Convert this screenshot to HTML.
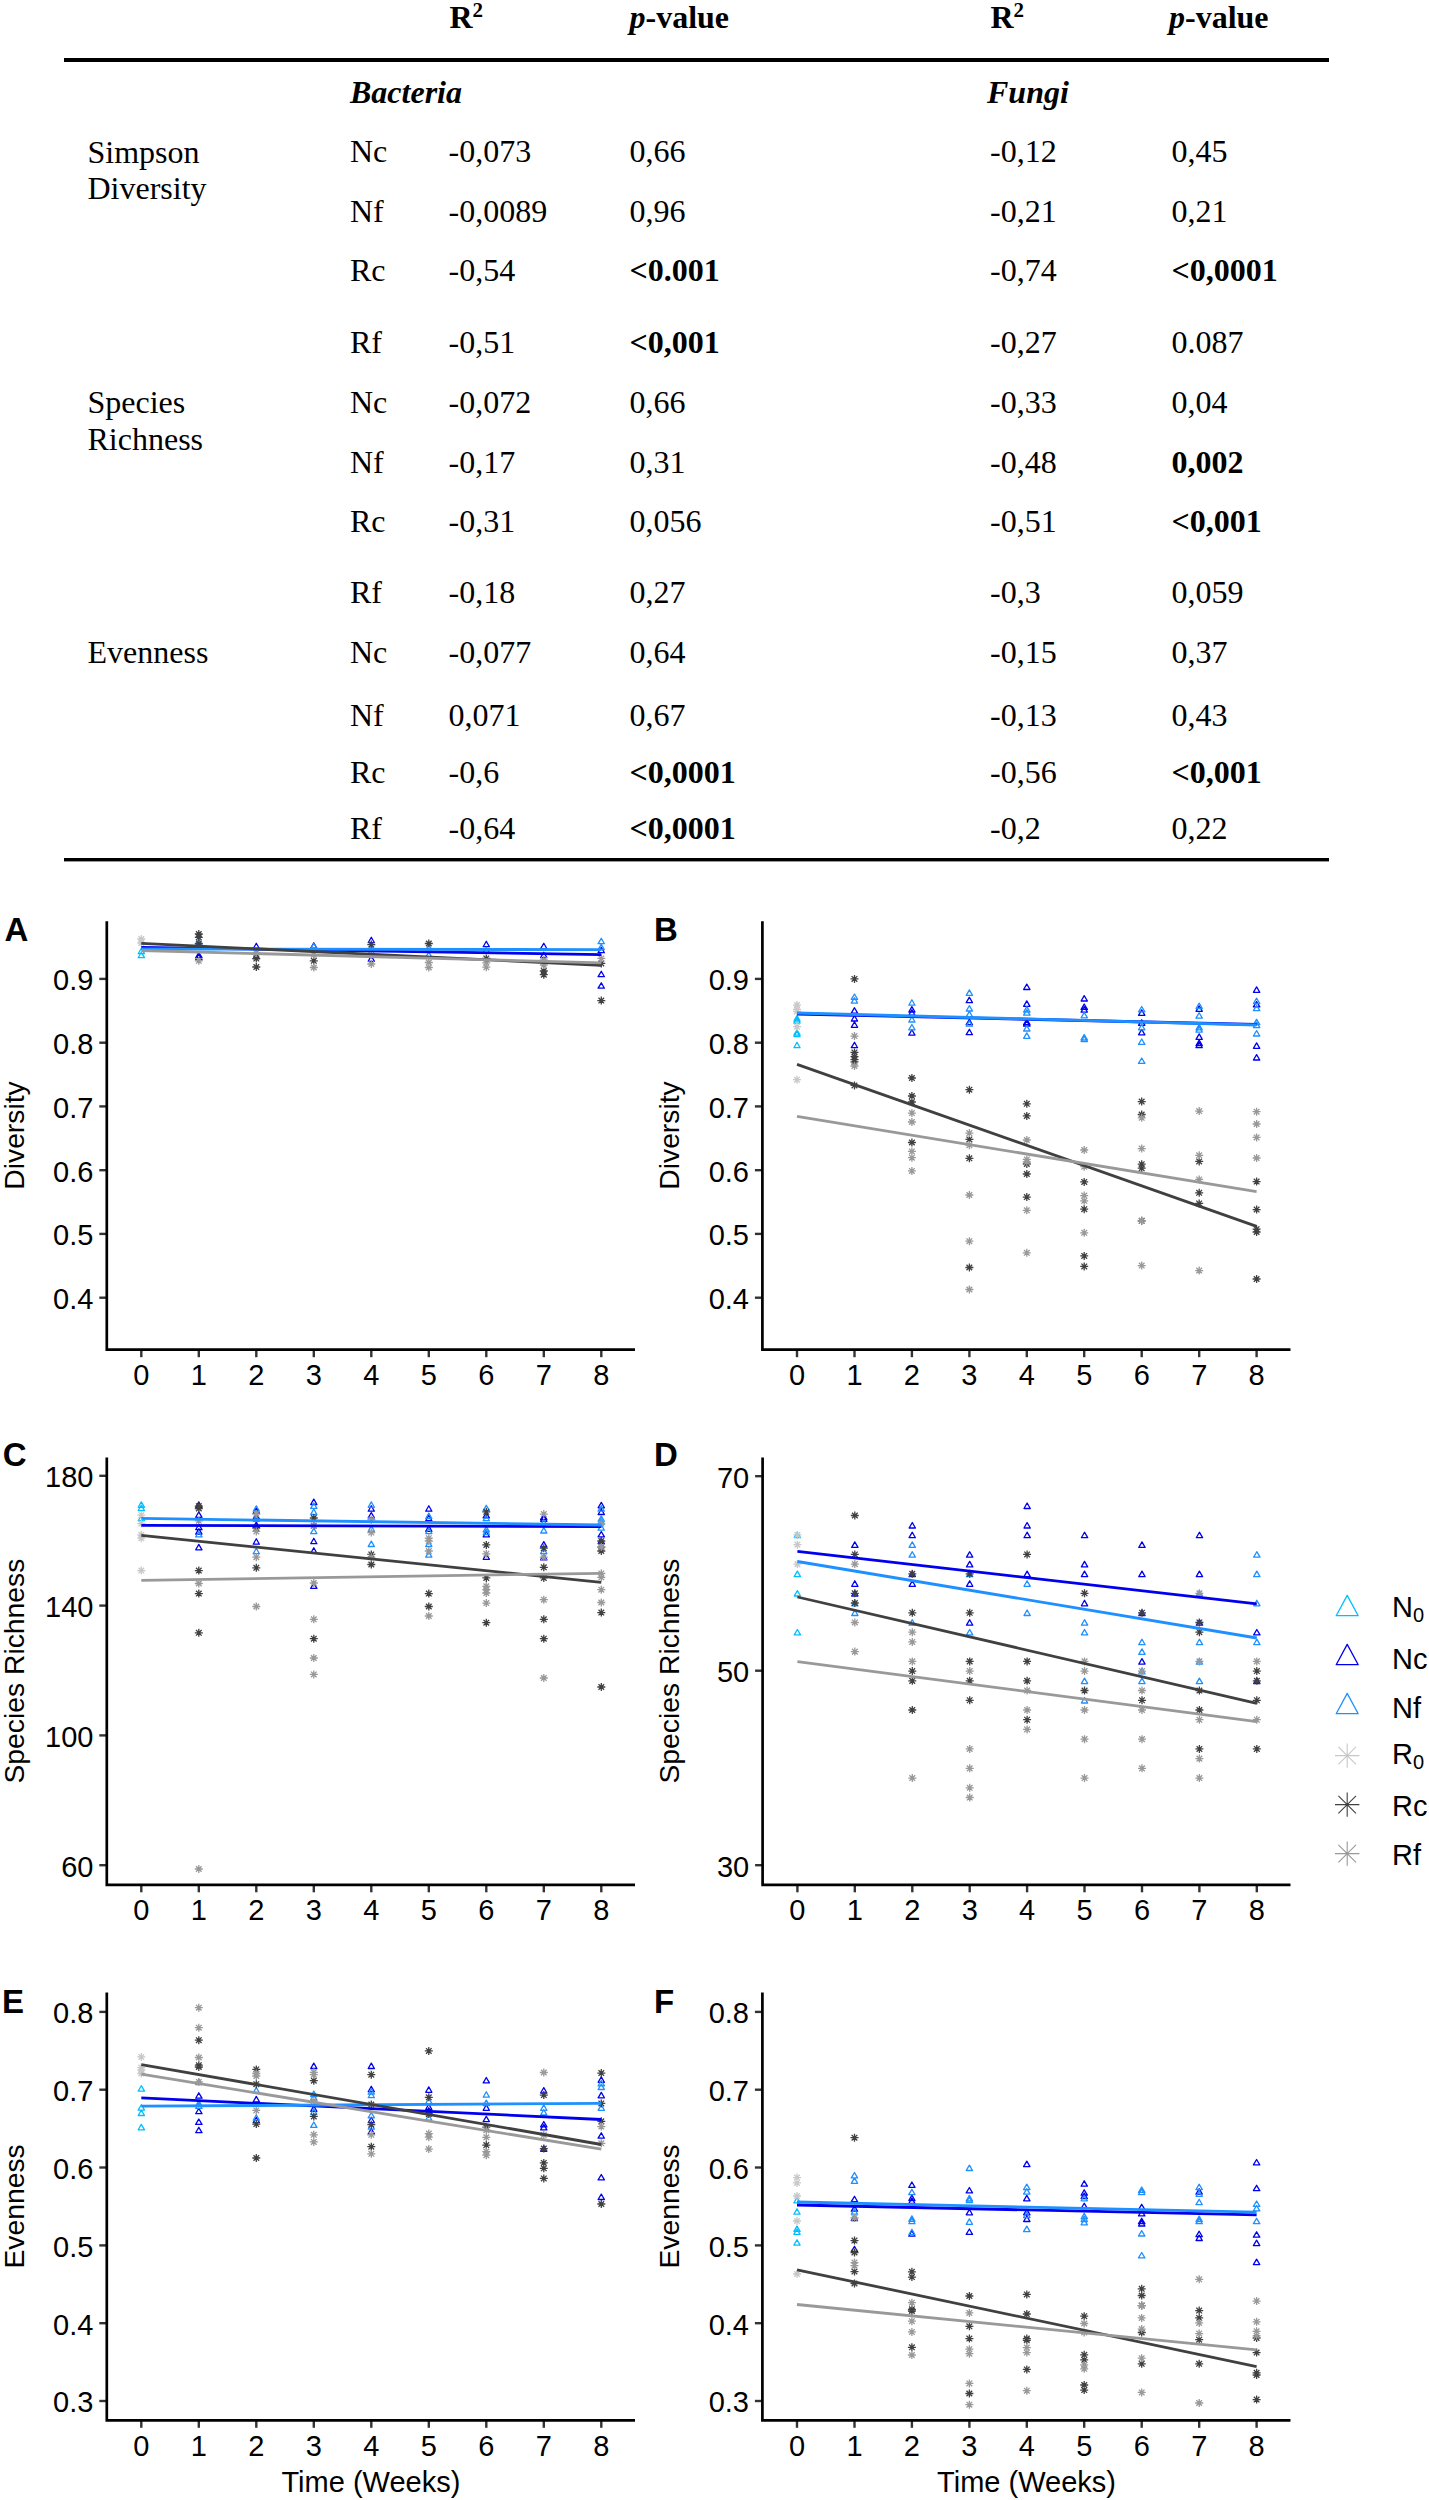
<!DOCTYPE html>
<html><head><meta charset="utf-8"><style>
html,body{margin:0;padding:0;background:#fff;}
body{width:1429px;height:2500px;overflow:hidden;}
svg{display:block;}
</style></head><body>
<svg width="1429" height="2500" viewBox="0 0 1429 2500">
<rect width="1429" height="2500" fill="#fff"/>
<g style="font-family:'Liberation Serif',serif;font-size:32px" fill="#000">
<text x="449.5" y="28" style="font-weight:bold">R<tspan font-size="21" font-weight="bold" dy="-11.2">2</tspan></text>
<text x="629.5" y="28" style="font-weight:bold"><tspan font-style="italic">p</tspan>-value</text>
<text x="990.5" y="28" style="font-weight:bold">R<tspan font-size="21" font-weight="bold" dy="-11.2">2</tspan></text>
<text x="1169" y="28" style="font-weight:bold"><tspan font-style="italic">p</tspan>-value</text>
</g>
<rect x="64" y="58" width="1265" height="4" fill="#000"/>
<rect x="64" y="858" width="1265" height="3.4" fill="#000"/>
<g style="font-family:'Liberation Serif',serif;font-size:32px" fill="#000">
<text x="350" y="103" style="font-weight:bold;font-style:italic">Bacteria</text>
<text x="987" y="103" style="font-weight:bold;font-style:italic">Fungi</text>
<text x="87.5" y="162.5" style="">Simpson</text>
<text x="87.5" y="199" style="">Diversity</text>
<text x="87.5" y="413" style="">Species</text>
<text x="87.5" y="449.6" style="">Richness</text>
<text x="87.5" y="662.7" style="">Evenness</text>
<text x="350" y="161.6" style="">Nc</text>
<text x="448.5" y="161.6" style="">-0,073</text>
<text x="629.5" y="161.6" style="">0,66</text>
<text x="990" y="161.6" style="">-0,12</text>
<text x="1171.5" y="161.6" style="">0,45</text>
<text x="350" y="221.6" style="">Nf</text>
<text x="448.5" y="221.6" style="">-0,0089</text>
<text x="629.5" y="221.6" style="">0,96</text>
<text x="990" y="221.6" style="">-0,21</text>
<text x="1171.5" y="221.6" style="">0,21</text>
<text x="350" y="281.4" style="">Rc</text>
<text x="448.5" y="281.4" style="">-0,54</text>
<text x="629.5" y="281.4" style="font-weight:bold">&lt;0.001</text>
<text x="990" y="281.4" style="">-0,74</text>
<text x="1171.5" y="281.4" style="font-weight:bold">&lt;0,0001</text>
<text x="350" y="353.3" style="">Rf</text>
<text x="448.5" y="353.3" style="">-0,51</text>
<text x="629.5" y="353.3" style="font-weight:bold">&lt;0,001</text>
<text x="990" y="353.3" style="">-0,27</text>
<text x="1171.5" y="353.3" style="">0.087</text>
<text x="350" y="412.5" style="">Nc</text>
<text x="448.5" y="412.5" style="">-0,072</text>
<text x="629.5" y="412.5" style="">0,66</text>
<text x="990" y="412.5" style="">-0,33</text>
<text x="1171.5" y="412.5" style="">0,04</text>
<text x="350" y="472.6" style="">Nf</text>
<text x="448.5" y="472.6" style="">-0,17</text>
<text x="629.5" y="472.6" style="">0,31</text>
<text x="990" y="472.6" style="">-0,48</text>
<text x="1171.5" y="472.6" style="font-weight:bold">0,002</text>
<text x="350" y="532.3" style="">Rc</text>
<text x="448.5" y="532.3" style="">-0,31</text>
<text x="629.5" y="532.3" style="">0,056</text>
<text x="990" y="532.3" style="">-0,51</text>
<text x="1171.5" y="532.3" style="font-weight:bold">&lt;0,001</text>
<text x="350" y="603.2" style="">Rf</text>
<text x="448.5" y="603.2" style="">-0,18</text>
<text x="629.5" y="603.2" style="">0,27</text>
<text x="990" y="603.2" style="">-0,3</text>
<text x="1171.5" y="603.2" style="">0,059</text>
<text x="350" y="662.9" style="">Nc</text>
<text x="448.5" y="662.9" style="">-0,077</text>
<text x="629.5" y="662.9" style="">0,64</text>
<text x="990" y="662.9" style="">-0,15</text>
<text x="1171.5" y="662.9" style="">0,37</text>
<text x="350" y="726.0" style="">Nf</text>
<text x="448.5" y="726.0" style="">0,071</text>
<text x="629.5" y="726.0" style="">0,67</text>
<text x="990" y="726.0" style="">-0,13</text>
<text x="1171.5" y="726.0" style="">0,43</text>
<text x="350" y="782.5" style="">Rc</text>
<text x="448.5" y="782.5" style="">-0,6</text>
<text x="629.5" y="782.5" style="font-weight:bold">&lt;0,0001</text>
<text x="990" y="782.5" style="">-0,56</text>
<text x="1171.5" y="782.5" style="font-weight:bold">&lt;0,001</text>
<text x="350" y="838.7" style="">Rf</text>
<text x="448.5" y="838.7" style="">-0,64</text>
<text x="629.5" y="838.7" style="font-weight:bold">&lt;0,0001</text>
<text x="990" y="838.7" style="">-0,2</text>
<text x="1171.5" y="838.7" style="">0,22</text>
</g>
<text x="4.5" y="941.4" style="font-family:'Liberation Sans',sans-serif;font-size:33px;font-weight:bold">A</text>
<text x="93.4" y="990.2" text-anchor="end" style="font-family:'Liberation Sans',sans-serif;font-size:29px" fill="#000">0.9</text>
<text x="93.4" y="1054.0" text-anchor="end" style="font-family:'Liberation Sans',sans-serif;font-size:29px" fill="#000">0.8</text>
<text x="93.4" y="1117.7" text-anchor="end" style="font-family:'Liberation Sans',sans-serif;font-size:29px" fill="#000">0.7</text>
<text x="93.4" y="1181.5" text-anchor="end" style="font-family:'Liberation Sans',sans-serif;font-size:29px" fill="#000">0.6</text>
<text x="93.4" y="1245.2" text-anchor="end" style="font-family:'Liberation Sans',sans-serif;font-size:29px" fill="#000">0.5</text>
<text x="93.4" y="1309.0" text-anchor="end" style="font-family:'Liberation Sans',sans-serif;font-size:29px" fill="#000">0.4</text>
<text x="141.3" y="1384.5" text-anchor="middle" style="font-family:'Liberation Sans',sans-serif;font-size:29px" fill="#000">0</text>
<text x="198.8" y="1384.5" text-anchor="middle" style="font-family:'Liberation Sans',sans-serif;font-size:29px" fill="#000">1</text>
<text x="256.3" y="1384.5" text-anchor="middle" style="font-family:'Liberation Sans',sans-serif;font-size:29px" fill="#000">2</text>
<text x="313.8" y="1384.5" text-anchor="middle" style="font-family:'Liberation Sans',sans-serif;font-size:29px" fill="#000">3</text>
<text x="371.3" y="1384.5" text-anchor="middle" style="font-family:'Liberation Sans',sans-serif;font-size:29px" fill="#000">4</text>
<text x="428.8" y="1384.5" text-anchor="middle" style="font-family:'Liberation Sans',sans-serif;font-size:29px" fill="#000">5</text>
<text x="486.3" y="1384.5" text-anchor="middle" style="font-family:'Liberation Sans',sans-serif;font-size:29px" fill="#000">6</text>
<text x="543.8" y="1384.5" text-anchor="middle" style="font-family:'Liberation Sans',sans-serif;font-size:29px" fill="#000">7</text>
<text x="601.3" y="1384.5" text-anchor="middle" style="font-family:'Liberation Sans',sans-serif;font-size:29px" fill="#000">8</text>
<path d="M99.3 978.9H106.8" stroke="#333" stroke-width="2.4"/><path d="M99.3 1042.7H106.8" stroke="#333" stroke-width="2.4"/><path d="M99.3 1106.4H106.8" stroke="#333" stroke-width="2.4"/><path d="M99.3 1170.2H106.8" stroke="#333" stroke-width="2.4"/><path d="M99.3 1233.9H106.8" stroke="#333" stroke-width="2.4"/><path d="M99.3 1297.7H106.8" stroke="#333" stroke-width="2.4"/><path d="M141.3 1349.7V1357.2" stroke="#333" stroke-width="2.4"/><path d="M198.8 1349.7V1357.2" stroke="#333" stroke-width="2.4"/><path d="M256.3 1349.7V1357.2" stroke="#333" stroke-width="2.4"/><path d="M313.8 1349.7V1357.2" stroke="#333" stroke-width="2.4"/><path d="M371.3 1349.7V1357.2" stroke="#333" stroke-width="2.4"/><path d="M428.8 1349.7V1357.2" stroke="#333" stroke-width="2.4"/><path d="M486.3 1349.7V1357.2" stroke="#333" stroke-width="2.4"/><path d="M543.8 1349.7V1357.2" stroke="#333" stroke-width="2.4"/><path d="M601.3 1349.7V1357.2" stroke="#333" stroke-width="2.4"/>
<text transform="translate(23.8,1135.5) rotate(-90)" text-anchor="middle" style="font-family:'Liberation Sans',sans-serif;font-size:28.3px" fill="#000">Diversity</text>
<path d="M141.3 948.3L138.2 953.7L144.5 953.7ZM141.3 952.3L138.2 957.7L144.5 957.7Z" fill="none" stroke="#00BFFF" stroke-width="1.3" stroke-linejoin="round"/>
<path d="M198.8 952.3L195.7 957.7L202.0 957.7ZM198.8 954.3L195.7 959.7L202.0 959.7ZM256.3 943.3L253.2 948.7L259.4 948.7ZM256.3 953.3L253.2 958.7L259.4 958.7ZM313.8 942.8L310.7 948.2L316.9 948.2ZM371.3 937.3L368.2 942.7L374.4 942.7ZM371.3 955.9L368.2 961.3L374.4 961.3ZM486.3 941.3L483.2 946.7L489.4 946.7ZM543.8 943.3L540.6 948.7L546.9 948.7ZM543.8 952.3L540.6 957.7L546.9 957.7ZM601.3 971.3L598.1 976.7L604.4 976.7ZM601.3 982.8L598.1 988.2L604.4 988.2ZM601.3 947.3L598.1 952.7L604.4 952.7Z" fill="none" stroke="#0000EE" stroke-width="1.3" stroke-linejoin="round"/>
<path d="M198.8 939.1L195.7 944.5L202.0 944.5ZM313.8 943.3L310.7 948.7L316.9 948.7ZM371.3 944.7L368.2 950.1L374.4 950.1ZM428.8 944.7L425.7 950.1L431.9 950.1ZM428.8 952.0L425.7 957.4L431.9 957.4ZM486.3 947.3L483.2 952.7L489.4 952.7ZM601.3 938.3L598.1 943.7L604.4 943.7ZM601.3 944.3L598.1 949.7L604.4 949.7Z" fill="none" stroke="#1E90FF" stroke-width="1.3" stroke-linejoin="round"/>
<path d="M137.3 939.0H145.3M141.3 935.0V943.0M138.5 936.2L144.1 941.8M138.5 941.8L144.1 936.2M137.3 943.0H145.3M141.3 939.0V947.0M138.5 940.2L144.1 945.8M138.5 945.8L144.1 940.2" fill="none" stroke="#C8C8C8" stroke-width="1.3"/>
<path d="M194.8 934.0H202.8M198.8 930.0V938.0M196.0 931.2L201.6 936.8M196.0 936.8L201.6 931.2M194.8 937.3H202.8M198.8 933.3V941.3M196.0 934.5L201.6 940.1M196.0 940.1L201.6 934.5M194.8 943.5H202.8M198.8 939.5V947.5M196.0 940.7L201.6 946.3M196.0 946.3L201.6 940.7M252.3 958.6H260.3M256.3 954.6V962.6M253.5 955.8L259.1 961.4M253.5 961.4L259.1 955.8M252.3 967.0H260.3M256.3 963.0V971.0M253.5 964.2L259.1 969.8M253.5 969.8L259.1 964.2M309.8 960.8H317.8M313.8 956.8V964.8M311.0 958.0L316.6 963.6M311.0 963.6L316.6 958.0M367.3 944.6H375.3M371.3 940.6V948.6M368.5 941.8L374.1 947.4M368.5 947.4L374.1 941.8M424.8 943.5H432.8M428.8 939.5V947.5M426.0 940.7L431.6 946.3M426.0 946.3L431.6 940.7M482.3 958.4H490.3M486.3 954.4V962.4M483.5 955.6L489.1 961.2M483.5 961.2L489.1 955.6M539.8 971.0H547.8M543.8 967.0V975.0M541.0 968.2L546.6 973.8M541.0 973.8L546.6 968.2M539.8 974.7H547.8M543.8 970.7V978.7M541.0 971.9L546.6 977.5M541.0 977.5L546.6 971.9M597.3 963.4H605.3M601.3 959.4V967.4M598.5 960.6L604.1 966.2M598.5 966.2L604.1 960.6M597.3 1000.6H605.3M601.3 996.6V1004.6M598.5 997.8L604.1 1003.4M598.5 1003.4L604.1 997.8" fill="none" stroke="#404040" stroke-width="1.3"/>
<path d="M194.8 960.8H202.8M198.8 956.8V964.8M196.0 958.0L201.6 963.6M196.0 963.6L201.6 958.0M252.3 953.0H260.3M256.3 949.0V957.0M253.5 950.2L259.1 955.8M253.5 955.8L259.1 950.2M309.8 954.7H317.8M313.8 950.7V958.7M311.0 951.9L316.6 957.5M311.0 957.5L316.6 951.9M309.8 967.5H317.8M313.8 963.5V971.5M311.0 964.7L316.6 970.3M311.0 970.3L316.6 964.7M367.3 955.0H375.3M371.3 951.0V959.0M368.5 952.2L374.1 957.8M368.5 957.8L374.1 952.2M367.3 964.0H375.3M371.3 960.0V968.0M368.5 961.2L374.1 966.8M368.5 966.8L374.1 961.2M424.8 962.5H432.8M428.8 958.5V966.5M426.0 959.7L431.6 965.3M426.0 965.3L431.6 959.7M424.8 967.5H432.8M428.8 963.5V971.5M426.0 964.7L431.6 970.3M426.0 970.3L431.6 964.7M482.3 962.8H490.3M486.3 958.8V966.8M483.5 960.0L489.1 965.6M483.5 965.6L489.1 960.0M482.3 967.2H490.3M486.3 963.2V971.2M483.5 964.4L489.1 970.0M483.5 970.0L489.1 964.4M539.8 960.0H547.8M543.8 956.0V964.0M541.0 957.2L546.6 962.8M541.0 962.8L546.6 957.2M539.8 965.0H547.8M543.8 961.0V969.0M541.0 962.2L546.6 967.8M541.0 967.8L546.6 962.2M597.3 958.4H605.3M601.3 954.4V962.4M598.5 955.6L604.1 961.2M598.5 961.2L604.1 955.6" fill="none" stroke="#999999" stroke-width="1.3"/>
<path d="M141.3 947.4L601.3 954.6" stroke="#0000EE" stroke-width="2.8" fill="none"/>
<path d="M141.3 949.0L601.3 949.6" stroke="#1E90FF" stroke-width="2.8" fill="none"/>
<path d="M141.3 943.4L601.3 965.3" stroke="#404040" stroke-width="2.8" fill="none"/>
<path d="M141.3 950.5L601.3 962.8" stroke="#999999" stroke-width="2.8" fill="none"/>
<path d="M106.8 921.2V1349.7H635" stroke="#000" stroke-width="2.7" fill="none" stroke-linejoin="miter" stroke-linecap="butt"/>
<text x="654" y="941.4" style="font-family:'Liberation Sans',sans-serif;font-size:33px;font-weight:bold">B</text>
<text x="749.0" y="990.2" text-anchor="end" style="font-family:'Liberation Sans',sans-serif;font-size:29px" fill="#000">0.9</text>
<text x="749.0" y="1054.0" text-anchor="end" style="font-family:'Liberation Sans',sans-serif;font-size:29px" fill="#000">0.8</text>
<text x="749.0" y="1117.7" text-anchor="end" style="font-family:'Liberation Sans',sans-serif;font-size:29px" fill="#000">0.7</text>
<text x="749.0" y="1181.5" text-anchor="end" style="font-family:'Liberation Sans',sans-serif;font-size:29px" fill="#000">0.6</text>
<text x="749.0" y="1245.2" text-anchor="end" style="font-family:'Liberation Sans',sans-serif;font-size:29px" fill="#000">0.5</text>
<text x="749.0" y="1309.0" text-anchor="end" style="font-family:'Liberation Sans',sans-serif;font-size:29px" fill="#000">0.4</text>
<text x="797.0" y="1384.5" text-anchor="middle" style="font-family:'Liberation Sans',sans-serif;font-size:29px" fill="#000">0</text>
<text x="854.5" y="1384.5" text-anchor="middle" style="font-family:'Liberation Sans',sans-serif;font-size:29px" fill="#000">1</text>
<text x="911.9" y="1384.5" text-anchor="middle" style="font-family:'Liberation Sans',sans-serif;font-size:29px" fill="#000">2</text>
<text x="969.4" y="1384.5" text-anchor="middle" style="font-family:'Liberation Sans',sans-serif;font-size:29px" fill="#000">3</text>
<text x="1026.8" y="1384.5" text-anchor="middle" style="font-family:'Liberation Sans',sans-serif;font-size:29px" fill="#000">4</text>
<text x="1084.2" y="1384.5" text-anchor="middle" style="font-family:'Liberation Sans',sans-serif;font-size:29px" fill="#000">5</text>
<text x="1141.7" y="1384.5" text-anchor="middle" style="font-family:'Liberation Sans',sans-serif;font-size:29px" fill="#000">6</text>
<text x="1199.2" y="1384.5" text-anchor="middle" style="font-family:'Liberation Sans',sans-serif;font-size:29px" fill="#000">7</text>
<text x="1256.6" y="1384.5" text-anchor="middle" style="font-family:'Liberation Sans',sans-serif;font-size:29px" fill="#000">8</text>
<path d="M754.9 978.9H762.4" stroke="#333" stroke-width="2.4"/><path d="M754.9 1042.7H762.4" stroke="#333" stroke-width="2.4"/><path d="M754.9 1106.4H762.4" stroke="#333" stroke-width="2.4"/><path d="M754.9 1170.2H762.4" stroke="#333" stroke-width="2.4"/><path d="M754.9 1233.9H762.4" stroke="#333" stroke-width="2.4"/><path d="M754.9 1297.7H762.4" stroke="#333" stroke-width="2.4"/><path d="M797.0 1349.7V1357.2" stroke="#333" stroke-width="2.4"/><path d="M854.5 1349.7V1357.2" stroke="#333" stroke-width="2.4"/><path d="M911.9 1349.7V1357.2" stroke="#333" stroke-width="2.4"/><path d="M969.4 1349.7V1357.2" stroke="#333" stroke-width="2.4"/><path d="M1026.8 1349.7V1357.2" stroke="#333" stroke-width="2.4"/><path d="M1084.2 1349.7V1357.2" stroke="#333" stroke-width="2.4"/><path d="M1141.7 1349.7V1357.2" stroke="#333" stroke-width="2.4"/><path d="M1199.2 1349.7V1357.2" stroke="#333" stroke-width="2.4"/><path d="M1256.6 1349.7V1357.2" stroke="#333" stroke-width="2.4"/>
<text transform="translate(678.9,1135.5) rotate(-90)" text-anchor="middle" style="font-family:'Liberation Sans',sans-serif;font-size:28.3px" fill="#000">Diversity</text>
<path d="M797.0 1015.6L793.9 1021.0L800.1 1021.0ZM797.0 1017.7L793.9 1023.1L800.1 1023.1ZM797.0 1029.7L793.9 1035.1L800.1 1035.1ZM797.0 1031.3L793.9 1036.7L800.1 1036.7ZM797.0 1042.3L793.9 1047.7L800.1 1047.7Z" fill="none" stroke="#00BFFF" stroke-width="1.3" stroke-linejoin="round"/>
<path d="M854.5 1007.7L851.3 1013.1L857.6 1013.1ZM854.5 1015.6L851.3 1021.0L857.6 1021.0ZM854.5 1021.9L851.3 1027.3L857.6 1027.3ZM854.5 1042.3L851.3 1047.7L857.6 1047.7ZM911.9 1006.6L908.8 1012.0L915.0 1012.0ZM911.9 1009.8L908.8 1015.2L915.0 1015.2ZM911.9 1029.7L908.8 1035.1L915.0 1035.1ZM969.4 997.2L966.2 1002.6L972.5 1002.6ZM969.4 1019.3L966.2 1024.7L972.5 1024.7ZM969.4 1029.3L966.2 1034.7L972.5 1034.7ZM1026.8 984.1L1023.6 989.5L1030.0 989.5ZM1026.8 1000.9L1023.6 1006.3L1030.0 1006.3ZM1026.8 1019.3L1023.6 1024.7L1030.0 1024.7ZM1026.8 1020.8L1023.6 1026.2L1030.0 1026.2ZM1084.2 995.6L1081.1 1001.0L1087.4 1001.0ZM1084.2 1004.0L1081.1 1009.4L1087.4 1009.4ZM1084.2 1006.7L1081.1 1012.1L1087.4 1012.1ZM1141.7 1009.9L1138.5 1015.3L1144.9 1015.3ZM1141.7 1019.9L1138.5 1025.3L1144.9 1025.3ZM1141.7 1029.4L1138.5 1034.8L1144.9 1034.8ZM1199.2 1005.9L1196.0 1011.3L1202.3 1011.3ZM1199.2 1033.9L1196.0 1039.3L1202.3 1039.3ZM1199.2 1040.1L1196.0 1045.5L1202.3 1045.5ZM1199.2 1042.3L1196.0 1047.7L1202.3 1047.7ZM1256.6 986.9L1253.4 992.3L1259.8 992.3ZM1256.6 1001.5L1253.4 1006.9L1259.8 1006.9ZM1256.6 1042.9L1253.4 1048.3L1259.8 1048.3ZM1256.6 1054.6L1253.4 1060.0L1259.8 1060.0Z" fill="none" stroke="#0000EE" stroke-width="1.3" stroke-linejoin="round"/>
<path d="M854.5 994.0L851.3 999.4L857.6 999.4ZM854.5 997.7L851.3 1003.1L857.6 1003.1ZM911.9 999.8L908.8 1005.2L915.0 1005.2ZM911.9 1016.6L908.8 1022.0L915.0 1022.0ZM911.9 1024.5L908.8 1029.9L915.0 1029.9ZM969.4 989.9L966.2 995.3L972.5 995.3ZM969.4 1005.6L966.2 1011.0L972.5 1011.0ZM969.4 1011.4L966.2 1016.8L972.5 1016.8ZM969.4 1020.8L966.2 1026.2L972.5 1026.2ZM1026.8 1006.7L1023.6 1012.1L1030.0 1012.1ZM1026.8 1009.8L1023.6 1015.2L1030.0 1015.2ZM1026.8 1025.6L1023.6 1031.0L1030.0 1031.0ZM1026.8 1032.9L1023.6 1038.3L1030.0 1038.3ZM1084.2 1012.4L1081.1 1017.8L1087.4 1017.8ZM1084.2 1034.5L1081.1 1039.9L1087.4 1039.9ZM1084.2 1036.1L1081.1 1041.5L1087.4 1041.5ZM1141.7 1006.5L1138.5 1011.9L1144.9 1011.9ZM1141.7 1024.4L1138.5 1029.8L1144.9 1029.8ZM1141.7 1039.0L1138.5 1044.4L1144.9 1044.4ZM1141.7 1058.0L1138.5 1063.4L1144.9 1063.4ZM1199.2 1003.1L1196.0 1008.5L1202.3 1008.5ZM1199.2 1012.7L1196.0 1018.1L1202.3 1018.1ZM1199.2 1024.4L1196.0 1029.8L1202.3 1029.8ZM1199.2 1026.7L1196.0 1032.1L1202.3 1032.1ZM1256.6 998.1L1253.4 1003.5L1259.8 1003.5ZM1256.6 1005.3L1253.4 1010.7L1259.8 1010.7ZM1256.6 1019.3L1253.4 1024.7L1259.8 1024.7ZM1256.6 1022.2L1253.4 1027.6L1259.8 1027.6ZM1256.6 1030.6L1253.4 1036.0L1259.8 1036.0Z" fill="none" stroke="#1E90FF" stroke-width="1.3" stroke-linejoin="round"/>
<path d="M793.0 1005.1H801.0M797.0 1001.1V1009.1M794.2 1002.3L799.8 1007.9M794.2 1007.9L799.8 1002.3M793.0 1009.3H801.0M797.0 1005.3V1013.3M794.2 1006.5L799.8 1012.1M794.2 1012.1L799.8 1006.5M793.0 1011.4H801.0M797.0 1007.4V1015.4M794.2 1008.6L799.8 1014.2M794.2 1014.2L799.8 1008.6M793.0 1026.7H801.0M797.0 1022.7V1030.7M794.2 1023.9L799.8 1029.5M794.2 1029.5L799.8 1023.9M793.0 1079.7H801.0M797.0 1075.7V1083.7M794.2 1076.9L799.8 1082.5M794.2 1082.5L799.8 1076.9" fill="none" stroke="#C8C8C8" stroke-width="1.3"/>
<path d="M850.5 978.9H858.5M854.5 974.9V982.9M851.6 976.1L857.3 981.7M851.6 981.7L857.3 976.1M850.5 1052.4H858.5M854.5 1048.4V1056.4M851.6 1049.6L857.3 1055.2M851.6 1055.2L857.3 1049.6M850.5 1056.6H858.5M854.5 1052.6V1060.6M851.6 1053.8L857.3 1059.4M851.6 1059.4L857.3 1053.8M850.5 1059.7H858.5M854.5 1055.7V1063.7M851.6 1056.9L857.3 1062.5M851.6 1062.5L857.3 1056.9M850.5 1061.8H858.5M854.5 1057.8V1065.8M851.6 1059.0L857.3 1064.6M851.6 1064.6L857.3 1059.0M850.5 1085.4H858.5M854.5 1081.4V1089.4M851.6 1082.6L857.3 1088.2M851.6 1088.2L857.3 1082.6M907.9 1078.0H915.9M911.9 1074.0V1082.0M909.1 1075.2L914.7 1080.8M909.1 1080.8L914.7 1075.2M907.9 1096.0H915.9M911.9 1092.0V1100.0M909.1 1093.2L914.7 1098.8M909.1 1098.8L914.7 1093.2M907.9 1102.0H915.9M911.9 1098.0V1106.0M909.1 1099.2L914.7 1104.8M909.1 1104.8L914.7 1099.2M907.9 1142.5H915.9M911.9 1138.5V1146.5M909.1 1139.7L914.7 1145.3M909.1 1145.3L914.7 1139.7M965.4 1089.7H973.4M969.4 1085.7V1093.7M966.5 1086.9L972.2 1092.5M966.5 1092.5L972.2 1086.9M965.4 1139.4H973.4M969.4 1135.4V1143.4M966.5 1136.6L972.2 1142.2M966.5 1142.2L972.2 1136.6M965.4 1158.3H973.4M969.4 1154.3V1162.3M966.5 1155.5L972.2 1161.1M966.5 1161.1L972.2 1155.5M965.4 1267.5H973.4M969.4 1263.5V1271.5M966.5 1264.7L972.2 1270.3M966.5 1270.3L972.2 1264.7M1022.8 1103.8H1030.8M1026.8 1099.8V1107.8M1024.0 1101.0L1029.6 1106.6M1024.0 1106.6L1029.6 1101.0M1022.8 1115.9H1030.8M1026.8 1111.9V1119.9M1024.0 1113.1L1029.6 1118.7M1024.0 1118.7L1029.6 1113.1M1022.8 1164.0H1030.8M1026.8 1160.0V1168.0M1024.0 1161.2L1029.6 1166.8M1024.0 1166.8L1029.6 1161.2M1022.8 1174.0H1030.8M1026.8 1170.0V1178.0M1024.0 1171.2L1029.6 1176.8M1024.0 1176.8L1029.6 1171.2M1022.8 1197.1H1030.8M1026.8 1193.1V1201.1M1024.0 1194.3L1029.6 1199.9M1024.0 1199.9L1029.6 1194.3M1080.2 1181.9H1088.2M1084.2 1177.9V1185.9M1081.4 1179.1L1087.1 1184.7M1081.4 1184.7L1087.1 1179.1M1080.2 1209.2H1088.2M1084.2 1205.2V1213.2M1081.4 1206.4L1087.1 1212.0M1081.4 1212.0L1087.1 1206.4M1080.2 1255.9H1088.2M1084.2 1251.9V1259.9M1081.4 1253.1L1087.1 1258.7M1081.4 1258.7L1087.1 1253.1M1080.2 1266.4H1088.2M1084.2 1262.4V1270.4M1081.4 1263.6L1087.1 1269.2M1081.4 1269.2L1087.1 1263.6M1137.7 1101.6H1145.7M1141.7 1097.6V1105.6M1138.9 1098.8L1144.5 1104.4M1138.9 1104.4L1144.5 1098.8M1137.7 1114.5H1145.7M1141.7 1110.5V1118.5M1138.9 1111.7L1144.5 1117.3M1138.9 1117.3L1144.5 1111.7M1137.7 1164.2H1145.7M1141.7 1160.2V1168.2M1138.9 1161.4L1144.5 1167.0M1138.9 1167.0L1144.5 1161.4M1137.7 1168.2H1145.7M1141.7 1164.2V1172.2M1138.9 1165.4L1144.5 1171.0M1138.9 1171.0L1144.5 1165.4M1137.7 1220.8H1145.7M1141.7 1216.8V1224.8M1138.9 1218.0L1144.5 1223.6M1138.9 1223.6L1144.5 1218.0M1195.2 1161.4H1203.2M1199.2 1157.4V1165.4M1196.3 1158.6L1202.0 1164.2M1196.3 1164.2L1202.0 1158.6M1195.2 1192.8H1203.2M1199.2 1188.8V1196.8M1196.3 1190.0L1202.0 1195.6M1196.3 1195.6L1202.0 1190.0M1195.2 1203.4H1203.2M1199.2 1199.4V1207.4M1196.3 1200.6L1202.0 1206.2M1196.3 1206.2L1202.0 1200.6M1252.6 1181.6H1260.6M1256.6 1177.6V1185.6M1253.8 1178.8L1259.4 1184.4M1253.8 1184.4L1259.4 1178.8M1252.6 1209.6H1260.6M1256.6 1205.6V1213.6M1253.8 1206.8L1259.4 1212.4M1253.8 1212.4L1259.4 1206.8M1252.6 1229.2H1260.6M1256.6 1225.2V1233.2M1253.8 1226.4L1259.4 1232.0M1253.8 1232.0L1259.4 1226.4M1252.6 1232.0H1260.6M1256.6 1228.0V1236.0M1253.8 1229.2L1259.4 1234.8M1253.8 1234.8L1259.4 1229.2M1252.6 1279.0H1260.6M1256.6 1275.0V1283.0M1253.8 1276.2L1259.4 1281.8M1253.8 1281.8L1259.4 1276.2" fill="none" stroke="#404040" stroke-width="1.3"/>
<path d="M850.5 1036.1H858.5M854.5 1032.1V1040.1M851.6 1033.3L857.3 1038.9M851.6 1038.9L857.3 1033.3M850.5 1066.0H858.5M854.5 1062.0V1070.0M851.6 1063.2L857.3 1068.8M851.6 1068.8L857.3 1063.2M907.9 1113.1H915.9M911.9 1109.1V1117.1M909.1 1110.3L914.7 1115.9M909.1 1115.9L914.7 1110.3M907.9 1122.0H915.9M911.9 1118.0V1126.0M909.1 1119.2L914.7 1124.8M909.1 1124.8L914.7 1119.2M907.9 1151.4H915.9M911.9 1147.4V1155.4M909.1 1148.6L914.7 1154.2M909.1 1154.2L914.7 1148.6M907.9 1157.7H915.9M911.9 1153.7V1161.7M909.1 1154.9L914.7 1160.5M909.1 1160.5L914.7 1154.9M907.9 1170.9H915.9M911.9 1166.9V1174.9M909.1 1168.1L914.7 1173.7M909.1 1173.7L914.7 1168.1M965.4 1133.1H973.4M969.4 1129.1V1137.1M966.5 1130.3L972.2 1135.9M966.5 1135.9L972.2 1130.3M965.4 1145.2H973.4M969.4 1141.2V1149.2M966.5 1142.4L972.2 1148.0M966.5 1148.0L972.2 1142.4M965.4 1195.0H973.4M969.4 1191.0V1199.0M966.5 1192.2L972.2 1197.8M966.5 1197.8L972.2 1192.2M965.4 1241.2H973.4M969.4 1237.2V1245.2M966.5 1238.4L972.2 1244.0M966.5 1244.0L972.2 1238.4M965.4 1289.5H973.4M969.4 1285.5V1293.5M966.5 1286.7L972.2 1292.3M966.5 1292.3L972.2 1286.7M1022.8 1140.0H1030.8M1026.8 1136.0V1144.0M1024.0 1137.2L1029.6 1142.8M1024.0 1142.8L1029.6 1137.2M1022.8 1159.4H1030.8M1026.8 1155.4V1163.4M1024.0 1156.6L1029.6 1162.2M1024.0 1162.2L1029.6 1156.6M1022.8 1162.0H1030.8M1026.8 1158.0V1166.0M1024.0 1159.2L1029.6 1164.8M1024.0 1164.8L1029.6 1159.2M1022.8 1210.3H1030.8M1026.8 1206.3V1214.3M1024.0 1207.5L1029.6 1213.1M1024.0 1213.1L1029.6 1207.5M1022.8 1252.8H1030.8M1026.8 1248.8V1256.8M1024.0 1250.0L1029.6 1255.6M1024.0 1255.6L1029.6 1250.0M1080.2 1150.0H1088.2M1084.2 1146.0V1154.0M1081.4 1147.2L1087.1 1152.8M1081.4 1152.8L1087.1 1147.2M1080.2 1166.7H1088.2M1084.2 1162.7V1170.7M1081.4 1163.9L1087.1 1169.5M1081.4 1169.5L1087.1 1163.9M1080.2 1195.6H1088.2M1084.2 1191.6V1199.6M1081.4 1192.8L1087.1 1198.4M1081.4 1198.4L1087.1 1192.8M1080.2 1200.8H1088.2M1084.2 1196.8V1204.8M1081.4 1198.0L1087.1 1203.6M1081.4 1203.6L1087.1 1198.0M1080.2 1232.8H1088.2M1084.2 1228.8V1236.8M1081.4 1230.0L1087.1 1235.6M1081.4 1235.6L1087.1 1230.0M1137.7 1117.8H1145.7M1141.7 1113.8V1121.8M1138.9 1115.0L1144.5 1120.6M1138.9 1120.6L1144.5 1115.0M1137.7 1148.6H1145.7M1141.7 1144.6V1152.6M1138.9 1145.8L1144.5 1151.4M1138.9 1151.4L1144.5 1145.8M1137.7 1220.8H1145.7M1141.7 1216.8V1224.8M1138.9 1218.0L1144.5 1223.6M1138.9 1223.6L1144.5 1218.0M1137.7 1265.6H1145.7M1141.7 1261.6V1269.6M1138.9 1262.8L1144.5 1268.4M1138.9 1268.4L1144.5 1262.8M1195.2 1111.1H1203.2M1199.2 1107.1V1115.1M1196.3 1108.3L1202.0 1113.9M1196.3 1113.9L1202.0 1108.3M1195.2 1155.3H1203.2M1199.2 1151.3V1159.3M1196.3 1152.5L1202.0 1158.1M1196.3 1158.1L1202.0 1152.5M1195.2 1179.4H1203.2M1199.2 1175.4V1183.4M1196.3 1176.6L1202.0 1182.2M1196.3 1182.2L1202.0 1176.6M1195.2 1270.6H1203.2M1199.2 1266.6V1274.6M1196.3 1267.8L1202.0 1273.4M1196.3 1273.4L1202.0 1267.8M1252.6 1111.7H1260.6M1256.6 1107.7V1115.7M1253.8 1108.9L1259.4 1114.5M1253.8 1114.5L1259.4 1108.9M1252.6 1124.0H1260.6M1256.6 1120.0V1128.0M1253.8 1121.2L1259.4 1126.8M1253.8 1126.8L1259.4 1121.2M1252.6 1137.4H1260.6M1256.6 1133.4V1141.4M1253.8 1134.6L1259.4 1140.2M1253.8 1140.2L1259.4 1134.6M1252.6 1158.0H1260.6M1256.6 1154.0V1162.0M1253.8 1155.2L1259.4 1160.8M1253.8 1160.8L1259.4 1155.2" fill="none" stroke="#999999" stroke-width="1.3"/>
<path d="M797.0 1014.0L1256.6 1024.5" stroke="#0000EE" stroke-width="2.8" fill="none"/>
<path d="M797.0 1013.0L1256.6 1025.0" stroke="#1E90FF" stroke-width="2.8" fill="none"/>
<path d="M797.0 1064.4L1256.6 1226.4" stroke="#404040" stroke-width="2.8" fill="none"/>
<path d="M797.0 1116.3L1256.6 1191.7" stroke="#999999" stroke-width="2.8" fill="none"/>
<path d="M762.4 921.2V1349.7H1290.5" stroke="#000" stroke-width="2.7" fill="none" stroke-linejoin="miter" stroke-linecap="butt"/>
<text x="2.8" y="1466" style="font-family:'Liberation Sans',sans-serif;font-size:33px;font-weight:bold">C</text>
<text x="93.4" y="1487.1" text-anchor="end" style="font-family:'Liberation Sans',sans-serif;font-size:29px" fill="#000">180</text>
<text x="93.4" y="1616.9" text-anchor="end" style="font-family:'Liberation Sans',sans-serif;font-size:29px" fill="#000">140</text>
<text x="93.4" y="1746.7" text-anchor="end" style="font-family:'Liberation Sans',sans-serif;font-size:29px" fill="#000">100</text>
<text x="93.4" y="1876.5" text-anchor="end" style="font-family:'Liberation Sans',sans-serif;font-size:29px" fill="#000">60</text>
<text x="141.3" y="1920.2" text-anchor="middle" style="font-family:'Liberation Sans',sans-serif;font-size:29px" fill="#000">0</text>
<text x="198.8" y="1920.2" text-anchor="middle" style="font-family:'Liberation Sans',sans-serif;font-size:29px" fill="#000">1</text>
<text x="256.3" y="1920.2" text-anchor="middle" style="font-family:'Liberation Sans',sans-serif;font-size:29px" fill="#000">2</text>
<text x="313.8" y="1920.2" text-anchor="middle" style="font-family:'Liberation Sans',sans-serif;font-size:29px" fill="#000">3</text>
<text x="371.3" y="1920.2" text-anchor="middle" style="font-family:'Liberation Sans',sans-serif;font-size:29px" fill="#000">4</text>
<text x="428.8" y="1920.2" text-anchor="middle" style="font-family:'Liberation Sans',sans-serif;font-size:29px" fill="#000">5</text>
<text x="486.3" y="1920.2" text-anchor="middle" style="font-family:'Liberation Sans',sans-serif;font-size:29px" fill="#000">6</text>
<text x="543.8" y="1920.2" text-anchor="middle" style="font-family:'Liberation Sans',sans-serif;font-size:29px" fill="#000">7</text>
<text x="601.3" y="1920.2" text-anchor="middle" style="font-family:'Liberation Sans',sans-serif;font-size:29px" fill="#000">8</text>
<path d="M99.3 1475.8H106.8" stroke="#333" stroke-width="2.4"/><path d="M99.3 1605.6H106.8" stroke="#333" stroke-width="2.4"/><path d="M99.3 1735.4H106.8" stroke="#333" stroke-width="2.4"/><path d="M99.3 1865.2H106.8" stroke="#333" stroke-width="2.4"/><path d="M141.3 1884.8V1892.3" stroke="#333" stroke-width="2.4"/><path d="M198.8 1884.8V1892.3" stroke="#333" stroke-width="2.4"/><path d="M256.3 1884.8V1892.3" stroke="#333" stroke-width="2.4"/><path d="M313.8 1884.8V1892.3" stroke="#333" stroke-width="2.4"/><path d="M371.3 1884.8V1892.3" stroke="#333" stroke-width="2.4"/><path d="M428.8 1884.8V1892.3" stroke="#333" stroke-width="2.4"/><path d="M486.3 1884.8V1892.3" stroke="#333" stroke-width="2.4"/><path d="M543.8 1884.8V1892.3" stroke="#333" stroke-width="2.4"/><path d="M601.3 1884.8V1892.3" stroke="#333" stroke-width="2.4"/>
<text transform="translate(23.8,1671.1) rotate(-90)" text-anchor="middle" style="font-family:'Liberation Sans',sans-serif;font-size:28.3px" fill="#000">Species Richness</text>
<path d="M141.3 1501.9L138.2 1507.3L144.5 1507.3ZM141.3 1505.2L138.2 1510.6L144.5 1510.6ZM141.3 1515.3L138.2 1520.7L144.5 1520.7Z" fill="none" stroke="#00BFFF" stroke-width="1.3" stroke-linejoin="round"/>
<path d="M198.8 1501.9L195.7 1507.3L202.0 1507.3ZM198.8 1511.9L195.7 1517.3L202.0 1517.3ZM198.8 1524.3L195.7 1529.7L202.0 1529.7ZM198.8 1528.7L195.7 1534.1L202.0 1534.1ZM198.8 1544.4L195.7 1549.8L202.0 1549.8ZM256.3 1508.0L253.2 1513.4L259.4 1513.4ZM256.3 1513.6L253.2 1519.0L259.4 1519.0ZM256.3 1522.0L253.2 1527.4L259.4 1527.4ZM256.3 1538.8L253.2 1544.2L259.4 1544.2ZM313.8 1499.1L310.7 1504.5L316.9 1504.5ZM313.8 1538.3L310.7 1543.7L316.9 1543.7ZM313.8 1547.8L310.7 1553.2L316.9 1553.2ZM313.8 1583.0L310.7 1588.4L316.9 1588.4ZM371.3 1505.8L368.2 1511.2L374.4 1511.2ZM371.3 1512.5L368.2 1517.9L374.4 1517.9ZM428.8 1505.8L425.7 1511.2L431.9 1511.2ZM428.8 1515.3L425.7 1520.7L431.9 1520.7ZM428.8 1525.9L425.7 1531.3L431.9 1531.3ZM486.3 1512.5L483.2 1517.9L489.4 1517.9ZM486.3 1531.5L483.2 1536.9L489.4 1536.9ZM486.3 1553.9L483.2 1559.3L489.4 1559.3ZM543.8 1514.2L540.6 1519.6L546.9 1519.6ZM543.8 1515.9L540.6 1521.3L546.9 1521.3ZM543.8 1541.6L540.6 1547.0L546.9 1547.0ZM543.8 1554.5L540.6 1559.9L546.9 1559.9ZM601.3 1502.4L598.1 1507.8L604.4 1507.8ZM601.3 1509.1L598.1 1514.5L604.4 1514.5ZM601.3 1531.5L598.1 1536.9L604.4 1536.9ZM601.3 1538.3L598.1 1543.7L604.4 1543.7Z" fill="none" stroke="#0000EE" stroke-width="1.3" stroke-linejoin="round"/>
<path d="M198.8 1531.5L195.7 1536.9L202.0 1536.9ZM256.3 1505.8L253.2 1511.2L259.4 1511.2ZM256.3 1515.9L253.2 1521.3L259.4 1521.3ZM256.3 1548.3L253.2 1553.7L259.4 1553.7ZM313.8 1503.0L310.7 1508.4L316.9 1508.4ZM313.8 1509.1L310.7 1514.5L316.9 1514.5ZM313.8 1528.2L310.7 1533.6L316.9 1533.6ZM371.3 1501.9L368.2 1507.3L374.4 1507.3ZM371.3 1525.9L368.2 1531.3L374.4 1531.3ZM371.3 1541.1L368.2 1546.5L374.4 1546.5ZM428.8 1513.1L425.7 1518.5L431.9 1518.5ZM428.8 1528.2L425.7 1533.6L431.9 1533.6ZM428.8 1541.1L425.7 1546.5L431.9 1546.5ZM428.8 1551.7L425.7 1557.1L431.9 1557.1ZM486.3 1505.2L483.2 1510.6L489.4 1510.6ZM486.3 1515.3L483.2 1520.7L489.4 1520.7ZM486.3 1526.5L483.2 1531.9L489.4 1531.9ZM486.3 1529.3L483.2 1534.7L489.4 1534.7ZM543.8 1519.8L540.6 1525.2L546.9 1525.2ZM543.8 1527.6L540.6 1533.0L546.9 1533.0ZM543.8 1548.3L540.6 1553.7L546.9 1553.7ZM601.3 1505.8L598.1 1511.2L604.4 1511.2ZM601.3 1515.9L598.1 1521.3L604.4 1521.3ZM601.3 1518.7L598.1 1524.1L604.4 1524.1ZM601.3 1524.8L598.1 1530.2L604.4 1530.2Z" fill="none" stroke="#1E90FF" stroke-width="1.3" stroke-linejoin="round"/>
<path d="M137.3 1515.2H145.3M141.3 1511.2V1519.2M138.5 1512.4L144.1 1518.0M138.5 1518.0L144.1 1512.4M137.3 1523.6H145.3M141.3 1519.6V1527.6M138.5 1520.8L144.1 1526.4M138.5 1526.4L144.1 1520.8M137.3 1534.8H145.3M141.3 1530.8V1538.8M138.5 1532.0L144.1 1537.6M138.5 1537.6L144.1 1532.0M137.3 1538.2H145.3M141.3 1534.2V1542.2M138.5 1535.4L144.1 1541.0M138.5 1541.0L144.1 1535.4M137.3 1570.6H145.3M141.3 1566.6V1574.6M138.5 1567.8L144.1 1573.4M138.5 1573.4L144.1 1567.8" fill="none" stroke="#C8C8C8" stroke-width="1.3"/>
<path d="M194.8 1506.2H202.8M198.8 1502.2V1510.2M196.0 1503.4L201.6 1509.0M196.0 1509.0L201.6 1503.4M194.8 1508.5H202.8M198.8 1504.5V1512.5M196.0 1505.7L201.6 1511.3M196.0 1511.3L201.6 1505.7M194.8 1570.6H202.8M198.8 1566.6V1574.6M196.0 1567.8L201.6 1573.4M196.0 1573.4L201.6 1567.8M194.8 1593.6H202.8M198.8 1589.6V1597.6M196.0 1590.8L201.6 1596.4M196.0 1596.4L201.6 1590.8M194.8 1632.8H202.8M198.8 1628.8V1636.8M196.0 1630.0L201.6 1635.6M196.0 1635.6L201.6 1630.0M252.3 1528.1H260.3M256.3 1524.1V1532.1M253.5 1525.3L259.1 1530.9M253.5 1530.9L259.1 1525.3M252.3 1567.8H260.3M256.3 1563.8V1571.8M253.5 1565.0L259.1 1570.6M253.5 1570.6L259.1 1565.0M309.8 1518.0H317.8M313.8 1514.0V1522.0M311.0 1515.2L316.6 1520.8M311.0 1520.8L316.6 1515.2M309.8 1525.8H317.8M313.8 1521.8V1529.8M311.0 1523.0L316.6 1528.6M311.0 1528.6L316.6 1523.0M309.8 1638.7H317.8M313.8 1634.7V1642.7M311.0 1635.9L316.6 1641.5M311.0 1641.5L316.6 1635.9M367.3 1554.4H375.3M371.3 1550.4V1558.4M368.5 1551.6L374.1 1557.2M368.5 1557.2L374.1 1551.6M367.3 1564.5H375.3M371.3 1560.5V1568.5M368.5 1561.7L374.1 1567.3M368.5 1567.3L374.1 1561.7M424.8 1593.6H432.8M428.8 1589.6V1597.6M426.0 1590.8L431.6 1596.4M426.0 1596.4L431.6 1590.8M424.8 1606.5H432.8M428.8 1602.5V1610.5M426.0 1603.7L431.6 1609.3M426.0 1609.3L431.6 1603.7M482.3 1511.8H490.3M486.3 1507.8V1515.8M483.5 1509.0L489.1 1514.6M483.5 1514.6L489.1 1509.0M482.3 1544.9H490.3M486.3 1540.9V1548.9M483.5 1542.1L489.1 1547.7M483.5 1547.7L489.1 1542.1M482.3 1577.9H490.3M486.3 1573.9V1581.9M483.5 1575.1L489.1 1580.7M483.5 1580.7L489.1 1575.1M482.3 1622.7H490.3M486.3 1618.7V1626.7M483.5 1619.9L489.1 1625.5M483.5 1625.5L489.1 1619.9M539.8 1548.2H547.8M543.8 1544.2V1552.2M541.0 1545.4L546.6 1551.0M541.0 1551.0L546.6 1545.4M539.8 1567.3H547.8M543.8 1563.3V1571.3M541.0 1564.5L546.6 1570.1M541.0 1570.1L546.6 1564.5M539.8 1577.9H547.8M543.8 1573.9V1581.9M541.0 1575.1L546.6 1580.7M541.0 1580.7L546.6 1575.1M539.8 1619.3H547.8M543.8 1615.3V1623.3M541.0 1616.5L546.6 1622.1M541.0 1622.1L546.6 1616.5M539.8 1638.7H547.8M543.8 1634.7V1642.7M541.0 1635.9L546.6 1641.5M541.0 1641.5L546.6 1635.9M597.3 1541.0H605.3M601.3 1537.0V1545.0M598.5 1538.2L604.1 1543.8M598.5 1543.8L604.1 1538.2M597.3 1547.1H605.3M601.3 1543.1V1551.1M598.5 1544.3L604.1 1549.9M598.5 1549.9L604.1 1544.3M597.3 1551.0H605.3M601.3 1547.0V1555.0M598.5 1548.2L604.1 1553.8M598.5 1553.8L604.1 1548.2M597.3 1612.6H605.3M601.3 1608.6V1616.6M598.5 1609.8L604.1 1615.4M598.5 1615.4L604.1 1609.8M597.3 1687.0H605.3M601.3 1683.0V1691.0M598.5 1684.2L604.1 1689.8M598.5 1689.8L604.1 1684.2" fill="none" stroke="#404040" stroke-width="1.3"/>
<path d="M194.8 1520.8H202.8M198.8 1516.8V1524.8M196.0 1518.0L201.6 1523.6M196.0 1523.6L201.6 1518.0M194.8 1583.5H202.8M198.8 1579.5V1587.5M196.0 1580.7L201.6 1586.3M196.0 1586.3L201.6 1580.7M194.8 1869.0H202.8M198.8 1865.0V1873.0M196.0 1866.2L201.6 1871.8M196.0 1871.8L201.6 1866.2M252.3 1514.0H260.3M256.3 1510.0V1518.0M253.5 1511.2L259.1 1516.8M253.5 1516.8L259.1 1511.2M252.3 1531.4H260.3M256.3 1527.4V1535.4M253.5 1528.6L259.1 1534.2M253.5 1534.2L259.1 1528.6M252.3 1557.2H260.3M256.3 1553.2V1561.2M253.5 1554.4L259.1 1560.0M253.5 1560.0L259.1 1554.4M252.3 1606.5H260.3M256.3 1602.5V1610.5M253.5 1603.7L259.1 1609.3M253.5 1609.3L259.1 1603.7M309.8 1525.8H317.8M313.8 1521.8V1529.8M311.0 1523.0L316.6 1528.6M311.0 1528.6L316.6 1523.0M309.8 1583.0H317.8M313.8 1579.0V1587.0M311.0 1580.2L316.6 1585.8M311.0 1585.8L316.6 1580.2M309.8 1619.3H317.8M313.8 1615.3V1623.3M311.0 1616.5L316.6 1622.1M311.0 1622.1L316.6 1616.5M309.8 1658.0H317.8M313.8 1654.0V1662.0M311.0 1655.2L316.6 1660.8M311.0 1660.8L316.6 1655.2M309.8 1674.4H317.8M313.8 1670.4V1678.4M311.0 1671.6L316.6 1677.2M311.0 1677.2L316.6 1671.6M367.3 1519.7H375.3M371.3 1515.7V1523.7M368.5 1516.9L374.1 1522.5M368.5 1522.5L374.1 1516.9M367.3 1532.6H375.3M371.3 1528.6V1536.6M368.5 1529.8L374.1 1535.4M368.5 1535.4L374.1 1529.8M367.3 1557.2H375.3M371.3 1553.2V1561.2M368.5 1554.4L374.1 1560.0M368.5 1560.0L374.1 1554.4M424.8 1538.2H432.8M428.8 1534.2V1542.2M426.0 1535.4L431.6 1541.0M426.0 1541.0L431.6 1535.4M424.8 1541.0H432.8M428.8 1537.0V1545.0M426.0 1538.2L431.6 1543.8M426.0 1543.8L431.6 1538.2M424.8 1551.0H432.8M428.8 1547.0V1555.0M426.0 1548.2L431.6 1553.8M426.0 1553.8L431.6 1548.2M424.8 1616.0H432.8M428.8 1612.0V1620.0M426.0 1613.2L431.6 1618.8M426.0 1618.8L431.6 1613.2M482.3 1553.8H490.3M486.3 1549.8V1557.8M483.5 1551.0L489.1 1556.6M483.5 1556.6L489.1 1551.0M482.3 1586.3H490.3M486.3 1582.3V1590.3M483.5 1583.5L489.1 1589.1M483.5 1589.1L489.1 1583.5M482.3 1589.7H490.3M486.3 1585.7V1593.7M483.5 1586.9L489.1 1592.5M483.5 1592.5L489.1 1586.9M482.3 1593.0H490.3M486.3 1589.0V1597.0M483.5 1590.2L489.1 1595.8M483.5 1595.8L489.1 1590.2M482.3 1603.1H490.3M486.3 1599.1V1607.1M483.5 1600.3L489.1 1605.9M483.5 1605.9L489.1 1600.3M539.8 1514.1H547.8M543.8 1510.1V1518.1M541.0 1511.3L546.6 1516.9M541.0 1516.9L546.6 1511.3M539.8 1557.2H547.8M543.8 1553.2V1561.2M541.0 1554.4L546.6 1560.0M541.0 1560.0L546.6 1554.4M539.8 1599.7H547.8M543.8 1595.7V1603.7M541.0 1596.9L546.6 1602.5M541.0 1602.5L546.6 1596.9M539.8 1678.0H547.8M543.8 1674.0V1682.0M541.0 1675.2L546.6 1680.8M541.0 1680.8L546.6 1675.2M597.3 1523.6H605.3M601.3 1519.6V1527.6M598.5 1520.8L604.1 1526.4M598.5 1526.4L604.1 1520.8M597.3 1547.1H605.3M601.3 1543.1V1551.1M598.5 1544.3L604.1 1549.9M598.5 1549.9L604.1 1544.3M597.3 1573.4H605.3M601.3 1569.4V1577.4M598.5 1570.6L604.1 1576.2M598.5 1576.2L604.1 1570.6M597.3 1577.3H605.3M601.3 1573.3V1581.3M598.5 1574.5L604.1 1580.1M598.5 1580.1L604.1 1574.5M597.3 1589.7H605.3M601.3 1585.7V1593.7M598.5 1586.9L604.1 1592.5M598.5 1592.5L604.1 1586.9M597.3 1602.5H605.3M601.3 1598.5V1606.5M598.5 1599.7L604.1 1605.3M598.5 1605.3L604.1 1599.7" fill="none" stroke="#999999" stroke-width="1.3"/>
<path d="M141.3 1525.3L601.3 1526.7" stroke="#0000EE" stroke-width="2.8" fill="none"/>
<path d="M141.3 1518.4L601.3 1525.0" stroke="#1E90FF" stroke-width="2.8" fill="none"/>
<path d="M141.3 1535.4L601.3 1582.4" stroke="#404040" stroke-width="2.8" fill="none"/>
<path d="M141.3 1580.3L601.3 1573.3" stroke="#999999" stroke-width="2.8" fill="none"/>
<path d="M106.8 1457.4V1884.8H635" stroke="#000" stroke-width="2.7" fill="none" stroke-linejoin="miter" stroke-linecap="butt"/>
<text x="654" y="1466" style="font-family:'Liberation Sans',sans-serif;font-size:33px;font-weight:bold">D</text>
<text x="749.2" y="1487.5" text-anchor="end" style="font-family:'Liberation Sans',sans-serif;font-size:29px" fill="#000">70</text>
<text x="749.2" y="1682.0" text-anchor="end" style="font-family:'Liberation Sans',sans-serif;font-size:29px" fill="#000">50</text>
<text x="749.2" y="1876.5" text-anchor="end" style="font-family:'Liberation Sans',sans-serif;font-size:29px" fill="#000">30</text>
<text x="797.4" y="1920.2" text-anchor="middle" style="font-family:'Liberation Sans',sans-serif;font-size:29px" fill="#000">0</text>
<text x="854.8" y="1920.2" text-anchor="middle" style="font-family:'Liberation Sans',sans-serif;font-size:29px" fill="#000">1</text>
<text x="912.3" y="1920.2" text-anchor="middle" style="font-family:'Liberation Sans',sans-serif;font-size:29px" fill="#000">2</text>
<text x="969.7" y="1920.2" text-anchor="middle" style="font-family:'Liberation Sans',sans-serif;font-size:29px" fill="#000">3</text>
<text x="1027.1" y="1920.2" text-anchor="middle" style="font-family:'Liberation Sans',sans-serif;font-size:29px" fill="#000">4</text>
<text x="1084.5" y="1920.2" text-anchor="middle" style="font-family:'Liberation Sans',sans-serif;font-size:29px" fill="#000">5</text>
<text x="1142.0" y="1920.2" text-anchor="middle" style="font-family:'Liberation Sans',sans-serif;font-size:29px" fill="#000">6</text>
<text x="1199.4" y="1920.2" text-anchor="middle" style="font-family:'Liberation Sans',sans-serif;font-size:29px" fill="#000">7</text>
<text x="1256.8" y="1920.2" text-anchor="middle" style="font-family:'Liberation Sans',sans-serif;font-size:29px" fill="#000">8</text>
<path d="M755.1 1476.2H762.6" stroke="#333" stroke-width="2.4"/><path d="M755.1 1670.7H762.6" stroke="#333" stroke-width="2.4"/><path d="M755.1 1865.2H762.6" stroke="#333" stroke-width="2.4"/><path d="M797.4 1884.8V1892.3" stroke="#333" stroke-width="2.4"/><path d="M854.8 1884.8V1892.3" stroke="#333" stroke-width="2.4"/><path d="M912.3 1884.8V1892.3" stroke="#333" stroke-width="2.4"/><path d="M969.7 1884.8V1892.3" stroke="#333" stroke-width="2.4"/><path d="M1027.1 1884.8V1892.3" stroke="#333" stroke-width="2.4"/><path d="M1084.5 1884.8V1892.3" stroke="#333" stroke-width="2.4"/><path d="M1142.0 1884.8V1892.3" stroke="#333" stroke-width="2.4"/><path d="M1199.4 1884.8V1892.3" stroke="#333" stroke-width="2.4"/><path d="M1256.8 1884.8V1892.3" stroke="#333" stroke-width="2.4"/>
<text transform="translate(678.9,1671.1) rotate(-90)" text-anchor="middle" style="font-family:'Liberation Sans',sans-serif;font-size:28.3px" fill="#000">Species Richness</text>
<path d="M797.4 1532.2L794.2 1537.7L800.5 1537.7ZM797.4 1571.1L794.2 1576.6L800.5 1576.6ZM797.4 1590.6L794.2 1596.0L800.5 1596.0ZM797.4 1629.5L794.2 1634.9L800.5 1634.9Z" fill="none" stroke="#00BFFF" stroke-width="1.3" stroke-linejoin="round"/>
<path d="M854.8 1541.9L851.7 1547.4L858.0 1547.4ZM854.8 1580.8L851.7 1586.3L858.0 1586.3ZM854.8 1590.6L851.7 1596.0L858.0 1596.0ZM912.3 1522.5L909.1 1528.0L915.4 1528.0ZM912.3 1532.2L909.1 1537.7L915.4 1537.7ZM912.3 1571.1L909.1 1576.6L915.4 1576.6ZM912.3 1580.8L909.1 1586.3L915.4 1586.3ZM969.7 1551.7L966.5 1557.1L972.8 1557.1ZM969.7 1561.4L966.5 1566.9L972.8 1566.9ZM969.7 1580.8L966.5 1586.3L972.8 1586.3ZM969.7 1619.7L966.5 1625.2L972.8 1625.2ZM1027.1 1503.0L1024.0 1508.5L1030.3 1508.5ZM1027.1 1522.5L1024.0 1528.0L1030.3 1528.0ZM1027.1 1532.2L1024.0 1537.7L1030.3 1537.7ZM1027.1 1571.1L1024.0 1576.6L1030.3 1576.6ZM1084.5 1532.2L1081.4 1537.7L1087.7 1537.7ZM1084.5 1561.4L1081.4 1566.9L1087.7 1566.9ZM1084.5 1571.1L1081.4 1576.6L1087.7 1576.6ZM1084.5 1600.3L1081.4 1605.8L1087.7 1605.8ZM1142.0 1541.9L1138.8 1547.4L1145.1 1547.4ZM1142.0 1571.1L1138.8 1576.6L1145.1 1576.6ZM1142.0 1610.0L1138.8 1615.5L1145.1 1615.5ZM1142.0 1658.6L1138.8 1664.1L1145.1 1664.1ZM1199.4 1532.2L1196.3 1537.7L1202.6 1537.7ZM1199.4 1571.1L1196.3 1576.6L1202.6 1576.6ZM1199.4 1619.7L1196.3 1625.2L1202.6 1625.2ZM1256.8 1629.5L1253.7 1634.9L1260.0 1634.9ZM1256.8 1678.1L1253.7 1683.6L1260.0 1683.6Z" fill="none" stroke="#0000EE" stroke-width="1.3" stroke-linejoin="round"/>
<path d="M854.8 1600.3L851.7 1605.8L858.0 1605.8ZM854.8 1610.0L851.7 1615.5L858.0 1615.5ZM912.3 1541.9L909.1 1547.4L915.4 1547.4ZM912.3 1551.7L909.1 1557.1L915.4 1557.1ZM912.3 1619.7L909.1 1625.2L915.4 1625.2ZM969.7 1571.1L966.5 1576.6L972.8 1576.6ZM969.7 1629.5L966.5 1634.9L972.8 1634.9ZM1027.1 1580.8L1024.0 1586.3L1030.3 1586.3ZM1027.1 1610.0L1024.0 1615.5L1030.3 1615.5ZM1084.5 1619.7L1081.4 1625.2L1087.7 1625.2ZM1084.5 1629.5L1081.4 1634.9L1087.7 1634.9ZM1084.5 1678.1L1081.4 1683.6L1087.7 1683.6ZM1084.5 1697.5L1081.4 1703.0L1087.7 1703.0ZM1142.0 1639.2L1138.8 1644.7L1145.1 1644.7ZM1142.0 1648.9L1138.8 1654.4L1145.1 1654.4ZM1142.0 1668.4L1138.8 1673.8L1145.1 1673.8ZM1142.0 1678.1L1138.8 1683.6L1145.1 1683.6ZM1199.4 1590.6L1196.3 1596.0L1202.6 1596.0ZM1199.4 1639.2L1196.3 1644.7L1202.6 1644.7ZM1199.4 1658.6L1196.3 1664.1L1202.6 1664.1ZM1199.4 1678.1L1196.3 1683.6L1202.6 1683.6ZM1256.8 1551.7L1253.7 1557.1L1260.0 1557.1ZM1256.8 1571.1L1253.7 1576.6L1260.0 1576.6ZM1256.8 1600.3L1253.7 1605.8L1260.0 1605.8ZM1256.8 1639.2L1253.7 1644.7L1260.0 1644.7Z" fill="none" stroke="#1E90FF" stroke-width="1.3" stroke-linejoin="round"/>
<path d="M793.4 1534.9H801.4M797.4 1530.9V1538.9M794.6 1532.1L800.2 1537.8M794.6 1537.8L800.2 1532.1M793.4 1544.7H801.4M797.4 1540.7V1548.7M794.6 1541.8L800.2 1547.5M794.6 1547.5L800.2 1541.8M793.4 1564.1H801.4M797.4 1560.1V1568.1M794.6 1561.3L800.2 1567.0M794.6 1567.0L800.2 1561.3" fill="none" stroke="#C8C8C8" stroke-width="1.3"/>
<path d="M850.8 1515.5H858.8M854.8 1511.5V1519.5M852.0 1512.7L857.7 1518.3M852.0 1518.3L857.7 1512.7M850.8 1554.4H858.8M854.8 1550.4V1558.4M852.0 1551.6L857.7 1557.2M852.0 1557.2L857.7 1551.6M850.8 1593.3H858.8M854.8 1589.3V1597.3M852.0 1590.5L857.7 1596.1M852.0 1596.1L857.7 1590.5M850.8 1603.0H858.8M854.8 1599.0V1607.0M852.0 1600.2L857.7 1605.9M852.0 1605.9L857.7 1600.2M908.3 1573.8H916.3M912.3 1569.8V1577.8M909.4 1571.0L915.1 1576.7M909.4 1576.7L915.1 1571.0M908.3 1612.8H916.3M912.3 1608.8V1616.8M909.4 1609.9L915.1 1615.6M909.4 1615.6L915.1 1609.9M908.3 1671.1H916.3M912.3 1667.1V1675.1M909.4 1668.3L915.1 1673.9M909.4 1673.9L915.1 1668.3M908.3 1680.8H916.3M912.3 1676.8V1684.8M909.4 1678.0L915.1 1683.7M909.4 1683.7L915.1 1678.0M908.3 1710.0H916.3M912.3 1706.0V1714.0M909.4 1707.2L915.1 1712.8M909.4 1712.8L915.1 1707.2M965.7 1573.8H973.7M969.7 1569.8V1577.8M966.9 1571.0L972.5 1576.7M966.9 1576.7L972.5 1571.0M965.7 1612.8H973.7M969.7 1608.8V1616.8M966.9 1609.9L972.5 1615.6M966.9 1615.6L972.5 1609.9M965.7 1661.4H973.7M969.7 1657.4V1665.4M966.9 1658.5L972.5 1664.2M966.9 1664.2L972.5 1658.5M965.7 1680.8H973.7M969.7 1676.8V1684.8M966.9 1678.0L972.5 1683.7M966.9 1683.7L972.5 1678.0M965.7 1700.3H973.7M969.7 1696.3V1704.3M966.9 1697.4L972.5 1703.1M966.9 1703.1L972.5 1697.4M1023.1 1554.4H1031.1M1027.1 1550.4V1558.4M1024.3 1551.6L1029.9 1557.2M1024.3 1557.2L1029.9 1551.6M1023.1 1661.4H1031.1M1027.1 1657.4V1665.4M1024.3 1658.5L1029.9 1664.2M1024.3 1664.2L1029.9 1658.5M1023.1 1680.8H1031.1M1027.1 1676.8V1684.8M1024.3 1678.0L1029.9 1683.7M1024.3 1683.7L1029.9 1678.0M1023.1 1719.7H1031.1M1027.1 1715.7V1723.7M1024.3 1716.9L1029.9 1722.6M1024.3 1722.6L1029.9 1716.9M1080.5 1593.3H1088.5M1084.5 1589.3V1597.3M1081.7 1590.5L1087.4 1596.1M1081.7 1596.1L1087.4 1590.5M1080.5 1690.5H1088.5M1084.5 1686.5V1694.5M1081.7 1687.7L1087.4 1693.4M1081.7 1693.4L1087.4 1687.7M1138.0 1612.8H1146.0M1142.0 1608.8V1616.8M1139.2 1609.9L1144.8 1615.6M1139.2 1615.6L1144.8 1609.9M1138.0 1700.3H1146.0M1142.0 1696.3V1704.3M1139.2 1697.4L1144.8 1703.1M1139.2 1703.1L1144.8 1697.4M1195.4 1622.5H1203.4M1199.4 1618.5V1626.5M1196.6 1619.6L1202.2 1625.3M1196.6 1625.3L1202.2 1619.6M1195.4 1632.2H1203.4M1199.4 1628.2V1636.2M1196.6 1629.4L1202.2 1635.0M1196.6 1635.0L1202.2 1629.4M1195.4 1690.5H1203.4M1199.4 1686.5V1694.5M1196.6 1687.7L1202.2 1693.4M1196.6 1693.4L1202.2 1687.7M1195.4 1710.0H1203.4M1199.4 1706.0V1714.0M1196.6 1707.2L1202.2 1712.8M1196.6 1712.8L1202.2 1707.2M1195.4 1748.9H1203.4M1199.4 1744.9V1752.9M1196.6 1746.1L1202.2 1751.7M1196.6 1751.7L1202.2 1746.1M1252.8 1671.1H1260.8M1256.8 1667.1V1675.1M1254.0 1668.3L1259.7 1673.9M1254.0 1673.9L1259.7 1668.3M1252.8 1680.8H1260.8M1256.8 1676.8V1684.8M1254.0 1678.0L1259.7 1683.7M1254.0 1683.7L1259.7 1678.0M1252.8 1700.3H1260.8M1256.8 1696.3V1704.3M1254.0 1697.4L1259.7 1703.1M1254.0 1703.1L1259.7 1697.4M1252.8 1748.9H1260.8M1256.8 1744.9V1752.9M1254.0 1746.1L1259.7 1751.7M1254.0 1751.7L1259.7 1746.1" fill="none" stroke="#404040" stroke-width="1.3"/>
<path d="M850.8 1564.1H858.8M854.8 1560.1V1568.1M852.0 1561.3L857.7 1567.0M852.0 1567.0L857.7 1561.3M850.8 1622.5H858.8M854.8 1618.5V1626.5M852.0 1619.6L857.7 1625.3M852.0 1625.3L857.7 1619.6M850.8 1651.6H858.8M854.8 1647.6V1655.6M852.0 1648.8L857.7 1654.5M852.0 1654.5L857.7 1648.8M908.3 1632.2H916.3M912.3 1628.2V1636.2M909.4 1629.4L915.1 1635.0M909.4 1635.0L915.1 1629.4M908.3 1641.9H916.3M912.3 1637.9V1645.9M909.4 1639.1L915.1 1644.8M909.4 1644.8L915.1 1639.1M908.3 1661.4H916.3M912.3 1657.4V1665.4M909.4 1658.5L915.1 1664.2M909.4 1664.2L915.1 1658.5M908.3 1778.1H916.3M912.3 1774.1V1782.1M909.4 1775.2L915.1 1780.9M909.4 1780.9L915.1 1775.2M965.7 1671.1H973.7M969.7 1667.1V1675.1M966.9 1668.3L972.5 1673.9M966.9 1673.9L972.5 1668.3M965.7 1748.9H973.7M969.7 1744.9V1752.9M966.9 1746.1L972.5 1751.7M966.9 1751.7L972.5 1746.1M965.7 1768.3H973.7M969.7 1764.3V1772.3M966.9 1765.5L972.5 1771.2M966.9 1771.2L972.5 1765.5M965.7 1787.8H973.7M969.7 1783.8V1791.8M966.9 1785.0L972.5 1790.6M966.9 1790.6L972.5 1785.0M965.7 1797.5H973.7M969.7 1793.5V1801.5M966.9 1794.7L972.5 1800.4M966.9 1800.4L972.5 1794.7M1023.1 1690.5H1031.1M1027.1 1686.5V1694.5M1024.3 1687.7L1029.9 1693.4M1024.3 1693.4L1029.9 1687.7M1023.1 1710.0H1031.1M1027.1 1706.0V1714.0M1024.3 1707.2L1029.9 1712.8M1024.3 1712.8L1029.9 1707.2M1023.1 1729.4H1031.1M1027.1 1725.4V1733.4M1024.3 1726.6L1029.9 1732.3M1024.3 1732.3L1029.9 1726.6M1080.5 1661.4H1088.5M1084.5 1657.4V1665.4M1081.7 1658.5L1087.4 1664.2M1081.7 1664.2L1087.4 1658.5M1080.5 1671.1H1088.5M1084.5 1667.1V1675.1M1081.7 1668.3L1087.4 1673.9M1081.7 1673.9L1087.4 1668.3M1080.5 1710.0H1088.5M1084.5 1706.0V1714.0M1081.7 1707.2L1087.4 1712.8M1081.7 1712.8L1087.4 1707.2M1080.5 1739.2H1088.5M1084.5 1735.2V1743.2M1081.7 1736.3L1087.4 1742.0M1081.7 1742.0L1087.4 1736.3M1080.5 1778.1H1088.5M1084.5 1774.1V1782.1M1081.7 1775.2L1087.4 1780.9M1081.7 1780.9L1087.4 1775.2M1138.0 1671.1H1146.0M1142.0 1667.1V1675.1M1139.2 1668.3L1144.8 1673.9M1139.2 1673.9L1144.8 1668.3M1138.0 1690.5H1146.0M1142.0 1686.5V1694.5M1139.2 1687.7L1144.8 1693.4M1139.2 1693.4L1144.8 1687.7M1138.0 1710.0H1146.0M1142.0 1706.0V1714.0M1139.2 1707.2L1144.8 1712.8M1139.2 1712.8L1144.8 1707.2M1138.0 1739.2H1146.0M1142.0 1735.2V1743.2M1139.2 1736.3L1144.8 1742.0M1139.2 1742.0L1144.8 1736.3M1138.0 1768.3H1146.0M1142.0 1764.3V1772.3M1139.2 1765.5L1144.8 1771.2M1139.2 1771.2L1144.8 1765.5M1195.4 1593.3H1203.4M1199.4 1589.3V1597.3M1196.6 1590.5L1202.2 1596.1M1196.6 1596.1L1202.2 1590.5M1195.4 1661.4H1203.4M1199.4 1657.4V1665.4M1196.6 1658.5L1202.2 1664.2M1196.6 1664.2L1202.2 1658.5M1195.4 1719.7H1203.4M1199.4 1715.7V1723.7M1196.6 1716.9L1202.2 1722.6M1196.6 1722.6L1202.2 1716.9M1195.4 1758.6H1203.4M1199.4 1754.6V1762.6M1196.6 1755.8L1202.2 1761.5M1196.6 1761.5L1202.2 1755.8M1195.4 1778.1H1203.4M1199.4 1774.1V1782.1M1196.6 1775.2L1202.2 1780.9M1196.6 1780.9L1202.2 1775.2M1252.8 1661.4H1260.8M1256.8 1657.4V1665.4M1254.0 1658.5L1259.7 1664.2M1254.0 1664.2L1259.7 1658.5M1252.8 1719.7H1260.8M1256.8 1715.7V1723.7M1254.0 1716.9L1259.7 1722.6M1254.0 1722.6L1259.7 1716.9" fill="none" stroke="#999999" stroke-width="1.3"/>
<path d="M797.4 1551.4L1256.8 1603.8" stroke="#0000EE" stroke-width="2.8" fill="none"/>
<path d="M797.4 1561.5L1256.8 1638.0" stroke="#1E90FF" stroke-width="2.8" fill="none"/>
<path d="M797.4 1597.0L1256.8 1703.3" stroke="#404040" stroke-width="2.8" fill="none"/>
<path d="M797.4 1661.6L1256.8 1721.6" stroke="#999999" stroke-width="2.8" fill="none"/>
<path d="M762.6 1457.4V1884.8H1290.5" stroke="#000" stroke-width="2.7" fill="none" stroke-linejoin="miter" stroke-linecap="butt"/>
<text x="2" y="2012.7" style="font-family:'Liberation Sans',sans-serif;font-size:33px;font-weight:bold">E</text>
<text x="93.4" y="2023.2" text-anchor="end" style="font-family:'Liberation Sans',sans-serif;font-size:29px" fill="#000">0.8</text>
<text x="93.4" y="2101.0" text-anchor="end" style="font-family:'Liberation Sans',sans-serif;font-size:29px" fill="#000">0.7</text>
<text x="93.4" y="2178.8" text-anchor="end" style="font-family:'Liberation Sans',sans-serif;font-size:29px" fill="#000">0.6</text>
<text x="93.4" y="2256.7" text-anchor="end" style="font-family:'Liberation Sans',sans-serif;font-size:29px" fill="#000">0.5</text>
<text x="93.4" y="2334.5" text-anchor="end" style="font-family:'Liberation Sans',sans-serif;font-size:29px" fill="#000">0.4</text>
<text x="93.4" y="2412.3" text-anchor="end" style="font-family:'Liberation Sans',sans-serif;font-size:29px" fill="#000">0.3</text>
<text x="141.3" y="2456.3" text-anchor="middle" style="font-family:'Liberation Sans',sans-serif;font-size:29px" fill="#000">0</text>
<text x="198.8" y="2456.3" text-anchor="middle" style="font-family:'Liberation Sans',sans-serif;font-size:29px" fill="#000">1</text>
<text x="256.3" y="2456.3" text-anchor="middle" style="font-family:'Liberation Sans',sans-serif;font-size:29px" fill="#000">2</text>
<text x="313.8" y="2456.3" text-anchor="middle" style="font-family:'Liberation Sans',sans-serif;font-size:29px" fill="#000">3</text>
<text x="371.3" y="2456.3" text-anchor="middle" style="font-family:'Liberation Sans',sans-serif;font-size:29px" fill="#000">4</text>
<text x="428.8" y="2456.3" text-anchor="middle" style="font-family:'Liberation Sans',sans-serif;font-size:29px" fill="#000">5</text>
<text x="486.3" y="2456.3" text-anchor="middle" style="font-family:'Liberation Sans',sans-serif;font-size:29px" fill="#000">6</text>
<text x="543.8" y="2456.3" text-anchor="middle" style="font-family:'Liberation Sans',sans-serif;font-size:29px" fill="#000">7</text>
<text x="601.3" y="2456.3" text-anchor="middle" style="font-family:'Liberation Sans',sans-serif;font-size:29px" fill="#000">8</text>
<path d="M99.3 2011.9H106.8" stroke="#333" stroke-width="2.4"/><path d="M99.3 2089.7H106.8" stroke="#333" stroke-width="2.4"/><path d="M99.3 2167.5H106.8" stroke="#333" stroke-width="2.4"/><path d="M99.3 2245.4H106.8" stroke="#333" stroke-width="2.4"/><path d="M99.3 2323.2H106.8" stroke="#333" stroke-width="2.4"/><path d="M99.3 2401.0H106.8" stroke="#333" stroke-width="2.4"/><path d="M141.3 2420.3V2427.8" stroke="#333" stroke-width="2.4"/><path d="M198.8 2420.3V2427.8" stroke="#333" stroke-width="2.4"/><path d="M256.3 2420.3V2427.8" stroke="#333" stroke-width="2.4"/><path d="M313.8 2420.3V2427.8" stroke="#333" stroke-width="2.4"/><path d="M371.3 2420.3V2427.8" stroke="#333" stroke-width="2.4"/><path d="M428.8 2420.3V2427.8" stroke="#333" stroke-width="2.4"/><path d="M486.3 2420.3V2427.8" stroke="#333" stroke-width="2.4"/><path d="M543.8 2420.3V2427.8" stroke="#333" stroke-width="2.4"/><path d="M601.3 2420.3V2427.8" stroke="#333" stroke-width="2.4"/>
<text transform="translate(23.8,2206.4) rotate(-90)" text-anchor="middle" style="font-family:'Liberation Sans',sans-serif;font-size:28.3px" fill="#000">Evenness</text>
<text x="370.9" y="2491.6" text-anchor="middle" style="font-family:'Liberation Sans',sans-serif;font-size:29px" fill="#000">Time (Weeks)</text>
<path d="M141.3 2085.7L138.2 2091.1L144.5 2091.1ZM141.3 2104.7L138.2 2110.1L144.5 2110.1ZM141.3 2110.1L138.2 2115.5L144.5 2115.5ZM141.3 2124.4L138.2 2129.8L144.5 2129.8Z" fill="none" stroke="#00BFFF" stroke-width="1.3" stroke-linejoin="round"/>
<path d="M198.8 2092.8L195.7 2098.2L202.0 2098.2ZM198.8 2108.3L195.7 2113.7L202.0 2113.7ZM198.8 2119.0L195.7 2124.4L202.0 2124.4ZM198.8 2127.3L195.7 2132.7L202.0 2132.7ZM256.3 2096.4L253.2 2101.8L259.4 2101.8ZM256.3 2117.3L253.2 2122.7L259.4 2122.7ZM313.8 2063.1L310.7 2068.5L316.9 2068.5ZM313.8 2105.9L310.7 2111.3L316.9 2111.3ZM371.3 2063.1L368.2 2068.5L374.4 2068.5ZM371.3 2086.3L368.2 2091.7L374.4 2091.7ZM371.3 2117.3L368.2 2122.7L374.4 2122.7ZM371.3 2128.5L368.2 2133.9L374.4 2133.9ZM428.8 2086.9L425.7 2092.3L431.9 2092.3ZM428.8 2104.1L425.7 2109.5L431.9 2109.5ZM428.8 2107.7L425.7 2113.1L431.9 2113.1ZM486.3 2077.5L483.2 2082.9L489.4 2082.9ZM486.3 2104.9L483.2 2110.3L489.4 2110.3ZM486.3 2116.2L483.2 2121.6L489.4 2121.6ZM543.8 2087.6L540.6 2093.0L546.9 2093.0ZM543.8 2121.5L540.6 2126.9L546.9 2126.9ZM543.8 2124.5L540.6 2129.9L546.9 2129.9ZM543.8 2145.9L540.6 2151.3L546.9 2151.3ZM601.3 2076.9L598.1 2082.3L604.4 2082.3ZM601.3 2092.4L598.1 2097.8L604.4 2097.8ZM601.3 2132.8L598.1 2138.2L604.4 2138.2ZM601.3 2174.5L598.1 2179.9L604.4 2179.9ZM601.3 2194.1L598.1 2199.5L604.4 2199.5Z" fill="none" stroke="#0000EE" stroke-width="1.3" stroke-linejoin="round"/>
<path d="M198.8 2079.2L195.7 2084.6L202.0 2084.6ZM198.8 2100.6L195.7 2106.0L202.0 2106.0ZM198.8 2103.0L195.7 2108.4L202.0 2108.4ZM256.3 2087.5L253.2 2092.9L259.4 2092.9ZM256.3 2114.8L253.2 2120.2L259.4 2120.2ZM313.8 2091.1L310.7 2096.5L316.9 2096.5ZM313.8 2094.6L310.7 2100.0L316.9 2100.0ZM313.8 2108.9L310.7 2114.3L316.9 2114.3ZM313.8 2122.0L310.7 2127.4L316.9 2127.4ZM371.3 2088.7L368.2 2094.1L374.4 2094.1ZM371.3 2092.3L368.2 2097.7L374.4 2097.7ZM371.3 2112.5L368.2 2117.9L374.4 2117.9ZM371.3 2123.8L368.2 2129.2L374.4 2129.2ZM428.8 2098.2L425.7 2103.6L431.9 2103.6ZM428.8 2114.8L425.7 2120.2L431.9 2120.2ZM486.3 2091.8L483.2 2097.2L489.4 2097.2ZM486.3 2100.1L483.2 2105.5L489.4 2105.5ZM543.8 2104.9L540.6 2110.3L546.9 2110.3ZM543.8 2109.6L540.6 2115.0L546.9 2115.0ZM601.3 2080.5L598.1 2085.9L604.4 2085.9ZM601.3 2084.1L598.1 2089.5L604.4 2089.5ZM601.3 2104.9L598.1 2110.3L604.4 2110.3Z" fill="none" stroke="#1E90FF" stroke-width="1.3" stroke-linejoin="round"/>
<path d="M137.3 2056.9H145.3M141.3 2052.9V2060.9M138.5 2054.1L144.1 2059.7M138.5 2059.7L144.1 2054.1M137.3 2067.6H145.3M141.3 2063.6V2071.6M138.5 2064.8L144.1 2070.4M138.5 2070.4L144.1 2064.8M137.3 2070.0H145.3M141.3 2066.0V2074.0M138.5 2067.2L144.1 2072.8M138.5 2072.8L144.1 2067.2M137.3 2073.5H145.3M141.3 2069.5V2077.5M138.5 2070.7L144.1 2076.3M138.5 2076.3L144.1 2070.7" fill="none" stroke="#C8C8C8" stroke-width="1.3"/>
<path d="M194.8 2040.2H202.8M198.8 2036.2V2044.2M196.0 2037.4L201.6 2043.0M196.0 2043.0L201.6 2037.4M194.8 2065.2H202.8M198.8 2061.2V2069.2M196.0 2062.4L201.6 2068.0M196.0 2068.0L201.6 2062.4M194.8 2067.0H202.8M198.8 2063.0V2071.0M196.0 2064.2L201.6 2069.8M196.0 2069.8L201.6 2064.2M252.3 2069.4H260.3M256.3 2065.4V2073.4M253.5 2066.6L259.1 2072.2M253.5 2072.2L259.1 2066.6M252.3 2084.2H260.3M256.3 2080.2V2088.2M253.5 2081.4L259.1 2087.0M253.5 2087.0L259.1 2081.4M252.3 2124.1H260.3M256.3 2120.1V2128.1M253.5 2121.3L259.1 2126.9M253.5 2126.9L259.1 2121.3M252.3 2158.0H260.3M256.3 2154.0V2162.0M253.5 2155.2L259.1 2160.8M253.5 2160.8L259.1 2155.2M309.8 2080.7H317.8M313.8 2076.7V2084.7M311.0 2077.9L316.6 2083.5M311.0 2083.5L316.6 2077.9M309.8 2116.4H317.8M313.8 2112.4V2120.4M311.0 2113.6L316.6 2119.2M311.0 2119.2L316.6 2113.6M367.3 2074.7H375.3M371.3 2070.7V2078.7M368.5 2071.9L374.1 2077.5M368.5 2077.5L374.1 2071.9M367.3 2104.5H375.3M371.3 2100.5V2108.5M368.5 2101.7L374.1 2107.3M368.5 2107.3L374.1 2101.7M367.3 2124.7H375.3M371.3 2120.7V2128.7M368.5 2121.9L374.1 2127.5M368.5 2127.5L374.1 2121.9M367.3 2146.7H375.3M371.3 2142.7V2150.7M368.5 2143.9L374.1 2149.5M368.5 2149.5L374.1 2143.9M424.8 2050.9H432.8M428.8 2046.9V2054.9M426.0 2048.1L431.6 2053.7M426.0 2053.7L431.6 2048.1M424.8 2097.3H432.8M428.8 2093.3V2101.3M426.0 2094.5L431.6 2100.1M426.0 2100.1L431.6 2094.5M424.8 2114.0H432.8M428.8 2110.0V2118.0M426.0 2111.2L431.6 2116.8M426.0 2116.8L431.6 2111.2M482.3 2127.2H490.3M486.3 2123.2V2131.2M483.5 2124.4L489.1 2130.0M483.5 2130.0L489.1 2124.4M482.3 2145.1H490.3M486.3 2141.1V2149.1M483.5 2142.3L489.1 2147.9M483.5 2147.9L489.1 2142.3M539.8 2095.1H547.8M543.8 2091.1V2099.1M541.0 2092.3L546.6 2097.9M541.0 2097.9L546.6 2092.3M539.8 2148.6H547.8M543.8 2144.6V2152.6M541.0 2145.8L546.6 2151.4M541.0 2151.4L546.6 2145.8M539.8 2162.9H547.8M543.8 2158.9V2166.9M541.0 2160.1L546.6 2165.7M541.0 2165.7L546.6 2160.1M539.8 2168.3H547.8M543.8 2164.3V2172.3M541.0 2165.5L546.6 2171.1M541.0 2171.1L546.6 2165.5M539.8 2178.4H547.8M543.8 2174.4V2182.4M541.0 2175.6L546.6 2181.2M541.0 2181.2L546.6 2175.6M597.3 2073.1H605.3M601.3 2069.1V2077.1M598.5 2070.3L604.1 2075.9M598.5 2075.9L604.1 2070.3M597.3 2103.4H605.3M601.3 2099.4V2107.4M598.5 2100.6L604.1 2106.2M598.5 2106.2L604.1 2100.6M597.3 2121.3H605.3M601.3 2117.3V2125.3M598.5 2118.5L604.1 2124.1M598.5 2124.1L604.1 2118.5M597.3 2204.0H605.3M601.3 2200.0V2208.0M598.5 2201.2L604.1 2206.8M598.5 2206.8L604.1 2201.2" fill="none" stroke="#404040" stroke-width="1.3"/>
<path d="M194.8 2007.7H202.8M198.8 2003.7V2011.7M196.0 2004.9L201.6 2010.5M196.0 2010.5L201.6 2004.9M194.8 2027.7H202.8M198.8 2023.7V2031.7M196.0 2024.9L201.6 2030.5M196.0 2030.5L201.6 2024.9M194.8 2057.5H202.8M198.8 2053.5V2061.5M196.0 2054.7L201.6 2060.3M196.0 2060.3L201.6 2054.7M194.8 2081.9H202.8M198.8 2077.9V2085.9M196.0 2079.1L201.6 2084.7M196.0 2084.7L201.6 2079.1M252.3 2073.5H260.3M256.3 2069.5V2077.5M253.5 2070.7L259.1 2076.3M253.5 2076.3L259.1 2070.7M252.3 2076.0H260.3M256.3 2072.0V2080.0M253.5 2073.2L259.1 2078.8M253.5 2078.8L259.1 2073.2M252.3 2110.4H260.3M256.3 2106.4V2114.4M253.5 2107.6L259.1 2113.2M253.5 2113.2L259.1 2107.6M309.8 2072.3H317.8M313.8 2068.3V2076.3M311.0 2069.5L316.6 2075.1M311.0 2075.1L316.6 2069.5M309.8 2074.7H317.8M313.8 2070.7V2078.7M311.0 2071.9L316.6 2077.5M311.0 2077.5L316.6 2071.9M309.8 2100.9H317.8M313.8 2096.9V2104.9M311.0 2098.1L316.6 2103.7M311.0 2103.7L316.6 2098.1M309.8 2134.8H317.8M313.8 2130.8V2138.8M311.0 2132.0L316.6 2137.6M311.0 2137.6L316.6 2132.0M309.8 2141.9H317.8M313.8 2137.9V2145.9M311.0 2139.1L316.6 2144.7M311.0 2144.7L316.6 2139.1M367.3 2134.8H375.3M371.3 2130.8V2138.8M368.5 2132.0L374.1 2137.6M368.5 2137.6L374.1 2132.0M367.3 2153.8H375.3M371.3 2149.8V2157.8M368.5 2151.0L374.1 2156.6M368.5 2156.6L374.1 2151.0M424.8 2133.6H432.8M428.8 2129.6V2137.6M426.0 2130.8L431.6 2136.4M426.0 2136.4L431.6 2130.8M424.8 2137.2H432.8M428.8 2133.2V2141.2M426.0 2134.4L431.6 2140.0M426.0 2140.0L431.6 2134.4M424.8 2149.1H432.8M428.8 2145.1V2153.1M426.0 2146.3L431.6 2151.9M426.0 2151.9L431.6 2146.3M482.3 2130.2H490.3M486.3 2126.2V2134.2M483.5 2127.4L489.1 2133.0M483.5 2133.0L489.1 2127.4M482.3 2137.3H490.3M486.3 2133.3V2141.3M483.5 2134.5L489.1 2140.1M483.5 2140.1L489.1 2134.5M482.3 2151.6H490.3M486.3 2147.6V2155.6M483.5 2148.8L489.1 2154.4M483.5 2154.4L489.1 2148.8M482.3 2155.2H490.3M486.3 2151.2V2159.2M483.5 2152.4L489.1 2158.0M483.5 2158.0L489.1 2152.4M539.8 2072.5H547.8M543.8 2068.5V2076.5M541.0 2069.7L546.6 2075.3M541.0 2075.3L546.6 2069.7M539.8 2135.0H547.8M543.8 2131.0V2139.0M541.0 2132.2L546.6 2137.8M541.0 2137.8L546.6 2132.2M597.3 2126.6H605.3M601.3 2122.6V2130.6M598.5 2123.8L604.1 2129.4M598.5 2129.4L604.1 2123.8M597.3 2143.3H605.3M601.3 2139.3V2147.3M598.5 2140.5L604.1 2146.1M598.5 2146.1L604.1 2140.5" fill="none" stroke="#999999" stroke-width="1.3"/>
<path d="M141.3 2097.9L601.3 2119.5" stroke="#0000EE" stroke-width="2.8" fill="none"/>
<path d="M141.3 2106.2L601.3 2103.4" stroke="#1E90FF" stroke-width="2.8" fill="none"/>
<path d="M141.3 2064.6L601.3 2144.5" stroke="#404040" stroke-width="2.8" fill="none"/>
<path d="M141.3 2074.1L601.3 2149.2" stroke="#999999" stroke-width="2.8" fill="none"/>
<path d="M106.8 1992.5V2420.3H635" stroke="#000" stroke-width="2.7" fill="none" stroke-linejoin="miter" stroke-linecap="butt"/>
<text x="654" y="2012.7" style="font-family:'Liberation Sans',sans-serif;font-size:33px;font-weight:bold">F</text>
<text x="749.0" y="2023.2" text-anchor="end" style="font-family:'Liberation Sans',sans-serif;font-size:29px" fill="#000">0.8</text>
<text x="749.0" y="2101.0" text-anchor="end" style="font-family:'Liberation Sans',sans-serif;font-size:29px" fill="#000">0.7</text>
<text x="749.0" y="2178.8" text-anchor="end" style="font-family:'Liberation Sans',sans-serif;font-size:29px" fill="#000">0.6</text>
<text x="749.0" y="2256.7" text-anchor="end" style="font-family:'Liberation Sans',sans-serif;font-size:29px" fill="#000">0.5</text>
<text x="749.0" y="2334.5" text-anchor="end" style="font-family:'Liberation Sans',sans-serif;font-size:29px" fill="#000">0.4</text>
<text x="749.0" y="2412.3" text-anchor="end" style="font-family:'Liberation Sans',sans-serif;font-size:29px" fill="#000">0.3</text>
<text x="797.0" y="2456.3" text-anchor="middle" style="font-family:'Liberation Sans',sans-serif;font-size:29px" fill="#000">0</text>
<text x="854.5" y="2456.3" text-anchor="middle" style="font-family:'Liberation Sans',sans-serif;font-size:29px" fill="#000">1</text>
<text x="911.9" y="2456.3" text-anchor="middle" style="font-family:'Liberation Sans',sans-serif;font-size:29px" fill="#000">2</text>
<text x="969.4" y="2456.3" text-anchor="middle" style="font-family:'Liberation Sans',sans-serif;font-size:29px" fill="#000">3</text>
<text x="1026.8" y="2456.3" text-anchor="middle" style="font-family:'Liberation Sans',sans-serif;font-size:29px" fill="#000">4</text>
<text x="1084.2" y="2456.3" text-anchor="middle" style="font-family:'Liberation Sans',sans-serif;font-size:29px" fill="#000">5</text>
<text x="1141.7" y="2456.3" text-anchor="middle" style="font-family:'Liberation Sans',sans-serif;font-size:29px" fill="#000">6</text>
<text x="1199.2" y="2456.3" text-anchor="middle" style="font-family:'Liberation Sans',sans-serif;font-size:29px" fill="#000">7</text>
<text x="1256.6" y="2456.3" text-anchor="middle" style="font-family:'Liberation Sans',sans-serif;font-size:29px" fill="#000">8</text>
<path d="M754.9 2011.9H762.4" stroke="#333" stroke-width="2.4"/><path d="M754.9 2089.7H762.4" stroke="#333" stroke-width="2.4"/><path d="M754.9 2167.5H762.4" stroke="#333" stroke-width="2.4"/><path d="M754.9 2245.4H762.4" stroke="#333" stroke-width="2.4"/><path d="M754.9 2323.2H762.4" stroke="#333" stroke-width="2.4"/><path d="M754.9 2401.0H762.4" stroke="#333" stroke-width="2.4"/><path d="M797.0 2420.3V2427.8" stroke="#333" stroke-width="2.4"/><path d="M854.5 2420.3V2427.8" stroke="#333" stroke-width="2.4"/><path d="M911.9 2420.3V2427.8" stroke="#333" stroke-width="2.4"/><path d="M969.4 2420.3V2427.8" stroke="#333" stroke-width="2.4"/><path d="M1026.8 2420.3V2427.8" stroke="#333" stroke-width="2.4"/><path d="M1084.2 2420.3V2427.8" stroke="#333" stroke-width="2.4"/><path d="M1141.7 2420.3V2427.8" stroke="#333" stroke-width="2.4"/><path d="M1199.2 2420.3V2427.8" stroke="#333" stroke-width="2.4"/><path d="M1256.6 2420.3V2427.8" stroke="#333" stroke-width="2.4"/>
<text transform="translate(678.9,2206.4) rotate(-90)" text-anchor="middle" style="font-family:'Liberation Sans',sans-serif;font-size:28.3px" fill="#000">Evenness</text>
<text x="1026.5" y="2491.6" text-anchor="middle" style="font-family:'Liberation Sans',sans-serif;font-size:29px" fill="#000">Time (Weeks)</text>
<path d="M797.0 2197.5L793.9 2202.9L800.1 2202.9ZM797.0 2208.8L793.9 2214.2L800.1 2214.2ZM797.0 2226.0L793.9 2231.4L800.1 2231.4ZM797.0 2229.0L793.9 2234.4L800.1 2234.4ZM797.0 2239.7L793.9 2245.1L800.1 2245.1Z" fill="none" stroke="#00BFFF" stroke-width="1.3" stroke-linejoin="round"/>
<path d="M854.5 2196.3L851.3 2201.7L857.6 2201.7ZM854.5 2205.8L851.3 2211.2L857.6 2211.2ZM854.5 2215.3L851.3 2220.7L857.6 2220.7ZM854.5 2246.3L851.3 2251.7L857.6 2251.7ZM911.9 2182.0L908.8 2187.4L915.0 2187.4ZM911.9 2195.1L908.8 2200.5L915.0 2200.5ZM911.9 2198.1L908.8 2203.5L915.0 2203.5ZM911.9 2230.8L908.8 2236.2L915.0 2236.2ZM969.4 2187.5L966.2 2192.9L972.5 2192.9ZM969.4 2209.4L966.2 2214.8L972.5 2214.8ZM969.4 2229.0L966.2 2234.4L972.5 2234.4ZM1026.8 2161.2L1023.6 2166.6L1030.0 2166.6ZM1026.8 2195.4L1023.6 2200.8L1030.0 2200.8ZM1026.8 2209.4L1023.6 2214.8L1030.0 2214.8ZM1026.8 2216.1L1023.6 2221.5L1030.0 2221.5ZM1084.2 2180.8L1081.1 2186.2L1087.4 2186.2ZM1084.2 2189.8L1081.1 2195.2L1087.4 2195.2ZM1084.2 2193.1L1081.1 2198.5L1087.4 2198.5ZM1084.2 2203.2L1081.1 2208.6L1087.4 2208.6ZM1141.7 2204.3L1138.5 2209.7L1144.9 2209.7ZM1141.7 2210.5L1138.5 2215.9L1144.9 2215.9ZM1141.7 2218.3L1138.5 2223.7L1144.9 2223.7ZM1141.7 2220.6L1138.5 2226.0L1144.9 2226.0ZM1199.2 2188.7L1196.0 2194.1L1202.3 2194.1ZM1199.2 2231.2L1196.0 2236.6L1202.3 2236.6ZM1199.2 2235.1L1196.0 2240.5L1202.3 2240.5ZM1256.6 2159.5L1253.4 2164.9L1259.8 2164.9ZM1256.6 2185.3L1253.4 2190.7L1259.8 2190.7ZM1256.6 2231.8L1253.4 2237.2L1259.8 2237.2ZM1256.6 2240.2L1253.4 2245.6L1259.8 2245.6ZM1256.6 2259.2L1253.4 2264.6L1259.8 2264.6Z" fill="none" stroke="#0000EE" stroke-width="1.3" stroke-linejoin="round"/>
<path d="M854.5 2172.5L851.3 2177.9L857.6 2177.9ZM854.5 2177.9L851.3 2183.3L857.6 2183.3ZM854.5 2208.8L851.3 2214.2L857.6 2214.2ZM911.9 2189.2L908.8 2194.6L915.0 2194.6ZM911.9 2215.9L908.8 2221.3L915.0 2221.3ZM911.9 2218.3L908.8 2223.7L915.0 2223.7ZM911.9 2229.3L908.8 2234.7L915.0 2234.7ZM969.4 2165.1L966.2 2170.5L972.5 2170.5ZM969.4 2195.4L966.2 2200.8L972.5 2200.8ZM969.4 2197.1L966.2 2202.5L972.5 2202.5ZM969.4 2218.9L966.2 2224.3L972.5 2224.3ZM1026.8 2184.2L1023.6 2189.6L1030.0 2189.6ZM1026.8 2188.7L1023.6 2194.1L1030.0 2194.1ZM1026.8 2212.2L1023.6 2217.6L1030.0 2217.6ZM1026.8 2226.2L1023.6 2231.6L1030.0 2231.6ZM1084.2 2195.4L1081.1 2200.8L1087.4 2200.8ZM1084.2 2213.3L1081.1 2218.7L1087.4 2218.7ZM1084.2 2216.1L1081.1 2221.5L1087.4 2221.5ZM1084.2 2219.4L1081.1 2224.8L1087.4 2224.8ZM1141.7 2187.0L1138.5 2192.4L1144.9 2192.4ZM1141.7 2189.2L1138.5 2194.6L1144.9 2194.6ZM1141.7 2230.6L1138.5 2236.0L1144.9 2236.0ZM1141.7 2252.5L1138.5 2257.9L1144.9 2257.9ZM1199.2 2184.2L1196.0 2189.6L1202.3 2189.6ZM1199.2 2190.9L1196.0 2196.3L1202.3 2196.3ZM1199.2 2199.3L1196.0 2204.7L1202.3 2204.7ZM1199.2 2216.1L1196.0 2221.5L1202.3 2221.5ZM1199.2 2218.3L1196.0 2223.7L1202.3 2223.7ZM1256.6 2201.0L1253.4 2206.4L1259.8 2206.4ZM1256.6 2205.5L1253.4 2210.9L1259.8 2210.9ZM1256.6 2218.3L1253.4 2223.7L1259.8 2223.7Z" fill="none" stroke="#1E90FF" stroke-width="1.3" stroke-linejoin="round"/>
<path d="M793.0 2177.6H801.0M797.0 2173.6V2181.6M794.2 2174.8L799.8 2180.4M794.2 2180.4L799.8 2174.8M793.0 2182.9H801.0M797.0 2178.9V2186.9M794.2 2180.1L799.8 2185.7M794.2 2185.7L799.8 2180.1M793.0 2196.0H801.0M797.0 2192.0V2200.0M794.2 2193.2L799.8 2198.8M794.2 2198.8L799.8 2193.2M793.0 2221.0H801.0M797.0 2217.0V2225.0M794.2 2218.2L799.8 2223.8M794.2 2223.8L799.8 2218.2M793.0 2274.0H801.0M797.0 2270.0V2278.0M794.2 2271.2L799.8 2276.8M794.2 2276.8L799.8 2271.2" fill="none" stroke="#C8C8C8" stroke-width="1.3"/>
<path d="M850.5 2137.7H858.5M854.5 2133.7V2141.7M851.6 2134.9L857.3 2140.5M851.6 2140.5L857.3 2134.9M850.5 2240.6H858.5M854.5 2236.6V2244.6M851.6 2237.8L857.3 2243.4M851.6 2243.4L857.3 2237.8M850.5 2252.5H858.5M854.5 2248.5V2256.5M851.6 2249.7L857.3 2255.3M851.6 2255.3L857.3 2249.7M850.5 2271.6H858.5M854.5 2267.6V2275.6M851.6 2268.8L857.3 2274.4M851.6 2274.4L857.3 2268.8M850.5 2283.5H858.5M854.5 2279.5V2287.5M851.6 2280.7L857.3 2286.3M851.6 2286.3L857.3 2280.7M907.9 2271.8H915.9M911.9 2267.8V2275.8M909.1 2269.0L914.7 2274.6M909.1 2274.6L914.7 2269.0M907.9 2277.1H915.9M911.9 2273.1V2281.1M909.1 2274.3L914.7 2279.9M909.1 2279.9L914.7 2274.3M907.9 2309.3H915.9M911.9 2305.3V2313.3M909.1 2306.5L914.7 2312.1M909.1 2312.1L914.7 2306.5M907.9 2311.0H915.9M911.9 2307.0V2315.0M909.1 2308.2L914.7 2313.8M909.1 2313.8L914.7 2308.2M907.9 2347.3H915.9M911.9 2343.3V2351.3M909.1 2344.5L914.7 2350.1M909.1 2350.1L914.7 2344.5M965.4 2296.0H973.4M969.4 2292.0V2300.0M966.5 2293.2L972.2 2298.8M966.5 2298.8L972.2 2293.2M965.4 2326.3H973.4M969.4 2322.3V2330.3M966.5 2323.5L972.2 2329.1M966.5 2329.1L972.2 2323.5M965.4 2338.6H973.4M969.4 2334.6V2342.6M966.5 2335.8L972.2 2341.4M966.5 2341.4L972.2 2335.8M965.4 2393.5H973.4M969.4 2389.5V2397.5M966.5 2390.7L972.2 2396.3M966.5 2396.3L972.2 2390.7M1022.8 2294.4H1030.8M1026.8 2290.4V2298.4M1024.0 2291.6L1029.6 2297.2M1024.0 2297.2L1029.6 2291.6M1022.8 2314.0H1030.8M1026.8 2310.0V2318.0M1024.0 2311.2L1029.6 2316.8M1024.0 2316.8L1029.6 2311.2M1022.8 2338.6H1030.8M1026.8 2334.6V2342.6M1024.0 2335.8L1029.6 2341.4M1024.0 2341.4L1029.6 2335.8M1022.8 2340.3H1030.8M1026.8 2336.3V2344.3M1024.0 2337.5L1029.6 2343.1M1024.0 2343.1L1029.6 2337.5M1022.8 2369.4H1030.8M1026.8 2365.4V2373.4M1024.0 2366.6L1029.6 2372.2M1024.0 2372.2L1029.6 2366.6M1080.2 2316.2H1088.2M1084.2 2312.2V2320.2M1081.4 2313.4L1087.1 2319.0M1081.4 2319.0L1087.1 2313.4M1080.2 2354.8H1088.2M1084.2 2350.8V2358.8M1081.4 2352.0L1087.1 2357.6M1081.4 2357.6L1087.1 2352.0M1080.2 2359.9H1088.2M1084.2 2355.9V2363.9M1081.4 2357.1L1087.1 2362.7M1081.4 2362.7L1087.1 2357.1M1080.2 2385.0H1088.2M1084.2 2381.0V2389.0M1081.4 2382.2L1087.1 2387.8M1081.4 2387.8L1087.1 2382.2M1080.2 2390.1H1088.2M1084.2 2386.1V2394.1M1081.4 2387.3L1087.1 2392.9M1081.4 2392.9L1087.1 2387.3M1137.7 2288.8H1145.7M1141.7 2284.8V2292.8M1138.9 2286.0L1144.5 2291.6M1138.9 2291.6L1144.5 2286.0M1137.7 2295.5H1145.7M1141.7 2291.5V2299.5M1138.9 2292.7L1144.5 2298.3M1138.9 2298.3L1144.5 2292.7M1137.7 2305.6H1145.7M1141.7 2301.6V2309.6M1138.9 2302.8L1144.5 2308.4M1138.9 2308.4L1144.5 2302.8M1137.7 2332.5H1145.7M1141.7 2328.5V2336.5M1138.9 2329.7L1144.5 2335.3M1138.9 2335.3L1144.5 2329.7M1137.7 2363.8H1145.7M1141.7 2359.8V2367.8M1138.9 2361.0L1144.5 2366.6M1138.9 2366.6L1144.5 2361.0M1195.2 2310.6H1203.2M1199.2 2306.6V2314.6M1196.3 2307.8L1202.0 2313.4M1196.3 2313.4L1202.0 2307.8M1195.2 2317.9H1203.2M1199.2 2313.9V2321.9M1196.3 2315.1L1202.0 2320.7M1196.3 2320.7L1202.0 2315.1M1195.2 2339.7H1203.2M1199.2 2335.7V2343.7M1196.3 2336.9L1202.0 2342.5M1196.3 2342.5L1202.0 2336.9M1195.2 2363.8H1203.2M1199.2 2359.8V2367.8M1196.3 2361.0L1202.0 2366.6M1196.3 2366.6L1202.0 2361.0M1252.6 2338.0H1260.6M1256.6 2334.0V2342.0M1253.8 2335.2L1259.4 2340.8M1253.8 2340.8L1259.4 2335.2M1252.6 2352.6H1260.6M1256.6 2348.6V2356.6M1253.8 2349.8L1259.4 2355.4M1253.8 2355.4L1259.4 2349.8M1252.6 2372.8H1260.6M1256.6 2368.8V2376.8M1253.8 2370.0L1259.4 2375.6M1253.8 2375.6L1259.4 2370.0M1252.6 2375.0H1260.6M1256.6 2371.0V2379.0M1253.8 2372.2L1259.4 2377.8M1253.8 2377.8L1259.4 2372.2M1252.6 2399.6H1260.6M1256.6 2395.6V2403.6M1253.8 2396.8L1259.4 2402.4M1253.8 2402.4L1259.4 2396.8" fill="none" stroke="#404040" stroke-width="1.3"/>
<path d="M850.5 2218.0H858.5M854.5 2214.0V2222.0M851.6 2215.2L857.3 2220.8M851.6 2220.8L857.3 2215.2M850.5 2262.6H858.5M854.5 2258.6V2266.6M851.6 2259.8L857.3 2265.4M851.6 2265.4L857.3 2259.8M850.5 2265.6H858.5M854.5 2261.6V2269.6M851.6 2262.8L857.3 2268.4M851.6 2268.4L857.3 2262.8M907.9 2302.7H915.9M911.9 2298.7V2306.7M909.1 2299.9L914.7 2305.5M909.1 2305.5L914.7 2299.9M907.9 2321.2H915.9M911.9 2317.2V2325.2M909.1 2318.4L914.7 2324.0M909.1 2324.0L914.7 2318.4M907.9 2331.9H915.9M911.9 2327.9V2335.9M909.1 2329.1L914.7 2334.7M909.1 2334.7L914.7 2329.1M907.9 2355.0H915.9M911.9 2351.0V2359.0M909.1 2352.2L914.7 2357.8M909.1 2357.8L914.7 2352.2M965.4 2312.9H973.4M969.4 2308.9V2316.9M966.5 2310.1L972.2 2315.7M966.5 2315.7L972.2 2310.1M965.4 2349.2H973.4M969.4 2345.2V2353.2M966.5 2346.4L972.2 2352.0M966.5 2352.0L972.2 2346.4M965.4 2353.7H973.4M969.4 2349.7V2357.7M966.5 2350.9L972.2 2356.5M966.5 2356.5L972.2 2350.9M965.4 2383.4H973.4M969.4 2379.4V2387.4M966.5 2380.6L972.2 2386.2M966.5 2386.2L972.2 2380.6M965.4 2404.7H973.4M969.4 2400.7V2408.7M966.5 2401.9L972.2 2407.5M966.5 2407.5L972.2 2401.9M1022.8 2347.6H1030.8M1026.8 2343.6V2351.6M1024.0 2344.8L1029.6 2350.4M1024.0 2350.4L1029.6 2344.8M1022.8 2352.6H1030.8M1026.8 2348.6V2356.6M1024.0 2349.8L1029.6 2355.4M1024.0 2355.4L1029.6 2349.8M1022.8 2390.7H1030.8M1026.8 2386.7V2394.7M1024.0 2387.9L1029.6 2393.5M1024.0 2393.5L1029.6 2387.9M1080.2 2323.5H1088.2M1084.2 2319.5V2327.5M1081.4 2320.7L1087.1 2326.3M1081.4 2326.3L1087.1 2320.7M1080.2 2332.5H1088.2M1084.2 2328.5V2336.5M1081.4 2329.7L1087.1 2335.3M1081.4 2335.3L1087.1 2329.7M1080.2 2364.9H1088.2M1084.2 2360.9V2368.9M1081.4 2362.1L1087.1 2367.7M1081.4 2367.7L1087.1 2362.1M1080.2 2368.8H1088.2M1084.2 2364.8V2372.8M1081.4 2366.0L1087.1 2371.6M1081.4 2371.6L1087.1 2366.0M1137.7 2305.6H1145.7M1141.7 2301.6V2309.6M1138.9 2302.8L1144.5 2308.4M1138.9 2308.4L1144.5 2302.8M1137.7 2317.9H1145.7M1141.7 2313.9V2321.9M1138.9 2315.1L1144.5 2320.7M1138.9 2320.7L1144.5 2315.1M1137.7 2329.1H1145.7M1141.7 2325.1V2333.1M1138.9 2326.3L1144.5 2331.9M1138.9 2331.9L1144.5 2326.3M1137.7 2358.2H1145.7M1141.7 2354.2V2362.2M1138.9 2355.4L1144.5 2361.0M1138.9 2361.0L1144.5 2355.4M1137.7 2392.4H1145.7M1141.7 2388.4V2396.4M1138.9 2389.6L1144.5 2395.2M1138.9 2395.2L1144.5 2389.6M1195.2 2279.3H1203.2M1199.2 2275.3V2283.3M1196.3 2276.5L1202.0 2282.1M1196.3 2282.1L1202.0 2276.5M1195.2 2322.9H1203.2M1199.2 2318.9V2326.9M1196.3 2320.1L1202.0 2325.7M1196.3 2325.7L1202.0 2320.1M1195.2 2333.6H1203.2M1199.2 2329.6V2337.6M1196.3 2330.8L1202.0 2336.4M1196.3 2336.4L1202.0 2330.8M1195.2 2403.0H1203.2M1199.2 2399.0V2407.0M1196.3 2400.2L1202.0 2405.8M1196.3 2405.8L1202.0 2400.2M1252.6 2301.1H1260.6M1256.6 2297.1V2305.1M1253.8 2298.3L1259.4 2303.9M1253.8 2303.9L1259.4 2298.3M1252.6 2321.8H1260.6M1256.6 2317.8V2325.8M1253.8 2319.0L1259.4 2324.6M1253.8 2324.6L1259.4 2319.0M1252.6 2331.3H1260.6M1256.6 2327.3V2335.3M1253.8 2328.5L1259.4 2334.1M1253.8 2334.1L1259.4 2328.5M1252.6 2335.8H1260.6M1256.6 2331.8V2339.8M1253.8 2333.0L1259.4 2338.6M1253.8 2338.6L1259.4 2333.0" fill="none" stroke="#999999" stroke-width="1.3"/>
<path d="M797.0 2205.0L1256.6 2214.9" stroke="#0000EE" stroke-width="2.8" fill="none"/>
<path d="M797.0 2202.0L1256.6 2212.1" stroke="#1E90FF" stroke-width="2.8" fill="none"/>
<path d="M797.0 2269.8L1256.6 2366.6" stroke="#404040" stroke-width="2.8" fill="none"/>
<path d="M797.0 2304.5L1256.6 2349.8" stroke="#999999" stroke-width="2.8" fill="none"/>
<path d="M762.4 1992.5V2420.3H1290.5" stroke="#000" stroke-width="2.7" fill="none" stroke-linejoin="miter" stroke-linecap="butt"/>
<path d="M1347.2 1595.4L1336.2 1615.7H1358.2Z" fill="none" stroke="#00BFFF" stroke-width="1.3" stroke-linejoin="round"/>
<path d="M1347.2 1644.4L1336.2 1664.7H1358.2Z" fill="none" stroke="#0000EE" stroke-width="1.3" stroke-linejoin="round"/>
<path d="M1347.2 1693.4L1336.2 1713.7H1358.2Z" fill="none" stroke="#1E90FF" stroke-width="1.3" stroke-linejoin="round"/>
<path d="M1335.0 1755.6H1359.4M1347.2 1743.3999999999999V1767.8M1338.4 1746.8L1356.0 1764.3999999999999M1338.4 1764.3999999999999L1356.0 1746.8" stroke="#C8C8C8" stroke-width="1.1" fill="none"/>
<path d="M1335.0 1804.6H1359.4M1347.2 1792.3999999999999V1816.8M1338.4 1795.8L1356.0 1813.3999999999999M1338.4 1813.3999999999999L1356.0 1795.8" stroke="#404040" stroke-width="1.1" fill="none"/>
<path d="M1335.0 1853.6H1359.4M1347.2 1841.3999999999999V1865.8M1338.4 1844.8L1356.0 1862.3999999999999M1338.4 1862.3999999999999L1356.0 1844.8" stroke="#999999" stroke-width="1.1" fill="none"/>
<text x="1392" y="1616.9" style="font-family:'Liberation Sans',sans-serif;font-size:29px" fill="#000">N<tspan font-size="20" dy="5.4">0</tspan></text>
<text x="1392" y="1668.8" style="font-family:'Liberation Sans',sans-serif;font-size:29px" fill="#000">Nc</text>
<text x="1392" y="1717.8" style="font-family:'Liberation Sans',sans-serif;font-size:29px" fill="#000">Nf</text>
<text x="1392" y="1763.9" style="font-family:'Liberation Sans',sans-serif;font-size:29px" fill="#000">R<tspan font-size="20" dy="5.4">0</tspan></text>
<text x="1392" y="1815.8" style="font-family:'Liberation Sans',sans-serif;font-size:29px" fill="#000">Rc</text>
<text x="1392" y="1864.8" style="font-family:'Liberation Sans',sans-serif;font-size:29px" fill="#000">Rf</text>
</svg>
</body></html>
